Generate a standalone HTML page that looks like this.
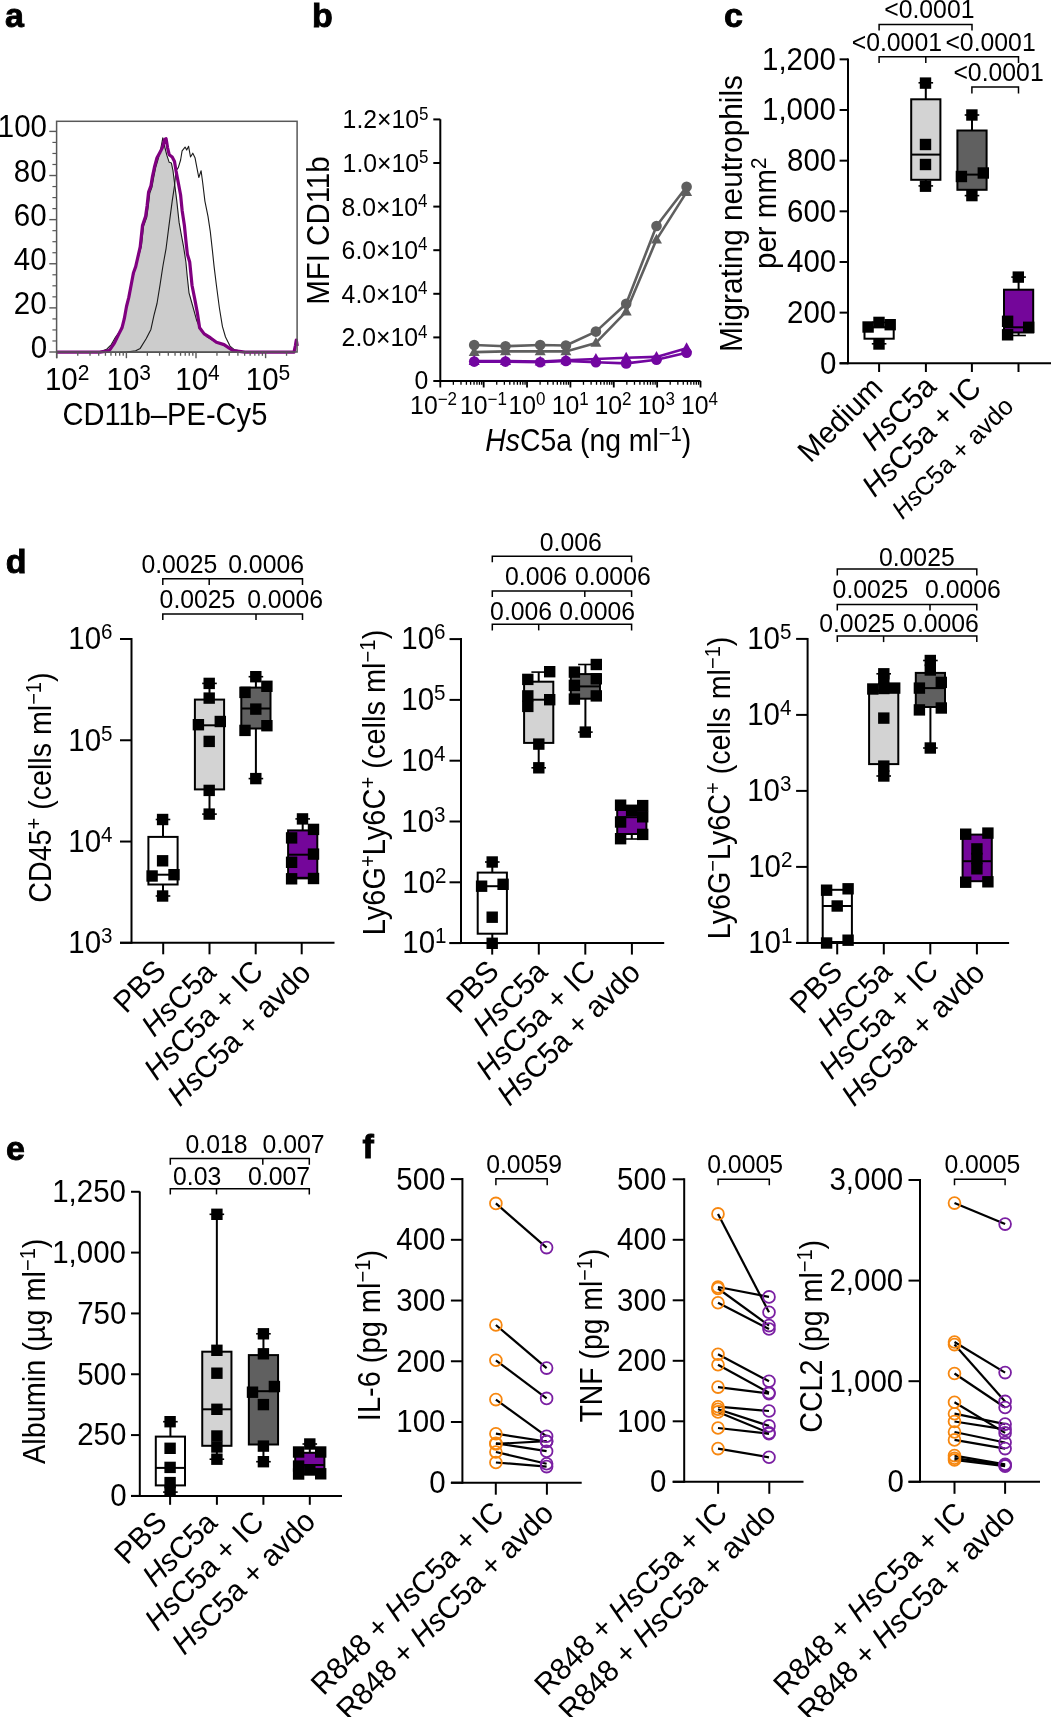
<!DOCTYPE html>
<html><head><meta charset="utf-8"><style>
html,body{margin:0;padding:0;background:#fff;overflow:hidden;}
svg{display:block;will-change:transform;}
text{font-family:"Liberation Sans", sans-serif;}
</style></head><body>
<svg width="1051" height="1717" viewBox="0 0 1051 1717">
<text transform="translate(4.9,27.2)" font-size="34" font-weight="bold" stroke="#000" stroke-width="0.9">a</text>
<path d="M95,352.2 L100.7,351.4 L106.7,349.2 L111.3,344.6 L115.6,337 L120,331 L123.2,323 L125.5,312 L127.8,302 L130,291 L132.5,279 L134.8,270 L137,262 L141.4,246 L143.6,226 L146.8,217 L148.3,206 L149.8,193 L152,187 L153.6,178 L155.8,167 L158,159.5 L160.5,150 L162.8,137.9 L164.5,146 L166.9,155.4 L169.2,162.3 L171.4,163.1 L173,170.7 L174.5,182.8 L176.8,201.1 L179.1,222.4 L181.3,234.6 L183.6,246.8 L185.9,262 L187.2,276 L189,292.8 L192,303.5 L196.6,320.2 L201.1,330.9 L207.2,337 L214.8,341.5 L222.4,344.6 L230,348.4 L236.1,351.4 L242,352.2 L242,352.2 L95,352.2 Z" stroke="#1a1a1a" stroke-width="1.1" fill="#cccccc" stroke-linejoin="round"/>
<path d="M120,352.2 L126.5,352 L135.7,350.7 L140.2,348.4 L146.3,338.5 L150.9,329.4 L153.9,315.7 L157,303.5 L160,285.2 L162.3,270 L163.1,265 L166.1,248.3 L169.2,223.9 L172.2,201.1 L174.5,185.9 L176,170.7 L178.3,167.6 L180.6,160 L182.1,150.9 L185.1,147.1 L186.7,150.1 L188.6,146.3 L190.5,157 L192.8,153.2 L195,157.7 L196.6,166.1 L198.8,177.5 L201.1,170.7 L202.7,182.8 L204.9,201.1 L208,216.3 L210.3,231.6 L212.5,251.4 L214.1,266.6 L216.4,285.2 L219.4,308 L222.4,326.3 L225.5,337 L230,346.1 L234.6,349.9 L242.2,351.4 L250,352.2" stroke="#1a1a1a" stroke-width="1.1" fill="none" stroke-linejoin="round"/>
<path d="M56.6,352.2 L100,352.2 L105.2,351.4 L109.8,349.9 L114.4,343.1 L118.9,333.9 L122,327.8 L124.3,318.7 L126.5,306.5 L128.8,297.4 L131.1,285.2 L133.4,273 L135.7,266.6 L140.2,246.8 L142.5,225.5 L145.6,216.3 L147.1,205.7 L148.6,192 L150.9,185.9 L152.4,176.8 L154.7,166.1 L157,157.7 L160,152.4 L162.3,147.8 L164.6,139.5 L166.1,138.7 L167.6,147.8 L169.2,154.7 L172.2,157 L174.5,161.5 L176,170.7 L178.3,182.8 L180.6,195 L182.1,210.2 L184.4,225.5 L185.9,240.7 L187.4,254.4 L189.7,262 L190.5,270 L192,285.2 L195,300.4 L197.3,312.6 L199.6,327.8 L204.2,333.9 L210.3,337.7 L216.4,342.3 L224,344.6 L228.5,347.6 L233.1,350.7 L239.2,351.4 L245,352.2 L294,352.2 L295.3,346 L296.3,340 L297.3,346" stroke="#800080" stroke-width="3.2" fill="none" stroke-linejoin="round"/>
<rect x="56.6" y="121.3" width="240.5" height="230.7" fill="none" stroke="#585858" stroke-width="1.5"/>
<line x1="49.3" y1="352" x2="56.6" y2="352" stroke="#585858" stroke-width="1.4" stroke-linecap="butt"/>
<line x1="52.4" y1="340.97" x2="56.6" y2="340.97" stroke="#585858" stroke-width="1.2" stroke-linecap="butt"/>
<line x1="52.4" y1="329.94" x2="56.6" y2="329.94" stroke="#585858" stroke-width="1.2" stroke-linecap="butt"/>
<line x1="52.4" y1="318.91" x2="56.6" y2="318.91" stroke="#585858" stroke-width="1.2" stroke-linecap="butt"/>
<line x1="49.3" y1="307.88" x2="56.6" y2="307.88" stroke="#585858" stroke-width="1.4" stroke-linecap="butt"/>
<line x1="52.4" y1="296.85" x2="56.6" y2="296.85" stroke="#585858" stroke-width="1.2" stroke-linecap="butt"/>
<line x1="52.4" y1="285.82" x2="56.6" y2="285.82" stroke="#585858" stroke-width="1.2" stroke-linecap="butt"/>
<line x1="52.4" y1="274.79" x2="56.6" y2="274.79" stroke="#585858" stroke-width="1.2" stroke-linecap="butt"/>
<line x1="49.3" y1="263.76" x2="56.6" y2="263.76" stroke="#585858" stroke-width="1.4" stroke-linecap="butt"/>
<line x1="52.4" y1="252.73" x2="56.6" y2="252.73" stroke="#585858" stroke-width="1.2" stroke-linecap="butt"/>
<line x1="52.4" y1="241.7" x2="56.6" y2="241.7" stroke="#585858" stroke-width="1.2" stroke-linecap="butt"/>
<line x1="52.4" y1="230.67" x2="56.6" y2="230.67" stroke="#585858" stroke-width="1.2" stroke-linecap="butt"/>
<line x1="49.3" y1="219.64" x2="56.6" y2="219.64" stroke="#585858" stroke-width="1.4" stroke-linecap="butt"/>
<line x1="52.4" y1="208.61" x2="56.6" y2="208.61" stroke="#585858" stroke-width="1.2" stroke-linecap="butt"/>
<line x1="52.4" y1="197.58" x2="56.6" y2="197.58" stroke="#585858" stroke-width="1.2" stroke-linecap="butt"/>
<line x1="52.4" y1="186.55" x2="56.6" y2="186.55" stroke="#585858" stroke-width="1.2" stroke-linecap="butt"/>
<line x1="49.3" y1="175.52" x2="56.6" y2="175.52" stroke="#585858" stroke-width="1.4" stroke-linecap="butt"/>
<line x1="52.4" y1="164.49" x2="56.6" y2="164.49" stroke="#585858" stroke-width="1.2" stroke-linecap="butt"/>
<line x1="52.4" y1="153.46" x2="56.6" y2="153.46" stroke="#585858" stroke-width="1.2" stroke-linecap="butt"/>
<line x1="52.4" y1="142.43" x2="56.6" y2="142.43" stroke="#585858" stroke-width="1.2" stroke-linecap="butt"/>
<line x1="49.3" y1="131.4" x2="56.6" y2="131.4" stroke="#585858" stroke-width="1.4" stroke-linecap="butt"/>
<text transform="translate(-2.2,137.4) scale(1,1.035)" font-size="29.5">100</text>
<text transform="translate(13.8,181.52) scale(1,1.035)" font-size="29.5">80</text>
<text transform="translate(13.8,225.64) scale(1,1.035)" font-size="29.5">60</text>
<text transform="translate(13.8,269.76) scale(1,1.035)" font-size="29.5">40</text>
<text transform="translate(13.8,313.88) scale(1,1.035)" font-size="29.5">20</text>
<text transform="translate(30.8,358) scale(1,1.035)" font-size="29.5">0</text>
<line x1="56.6" y1="352" x2="56.6" y2="358.2" stroke="#585858" stroke-width="1.4" stroke-linecap="butt"/>
<line x1="56.8" y1="352" x2="56.8" y2="358.2" stroke="#585858" stroke-width="1.4" stroke-linecap="butt"/>
<line x1="77.752" y1="352" x2="77.752" y2="355.8" stroke="#585858" stroke-width="1.3" stroke-linecap="butt"/>
<line x1="90.008" y1="352" x2="90.008" y2="355.8" stroke="#585858" stroke-width="1.3" stroke-linecap="butt"/>
<line x1="98.703" y1="352" x2="98.703" y2="355.8" stroke="#585858" stroke-width="1.3" stroke-linecap="butt"/>
<line x1="105.448" y1="352" x2="105.448" y2="355.8" stroke="#585858" stroke-width="1.3" stroke-linecap="butt"/>
<line x1="110.959" y1="352" x2="110.959" y2="355.8" stroke="#585858" stroke-width="1.3" stroke-linecap="butt"/>
<line x1="115.619" y1="352" x2="115.619" y2="355.8" stroke="#585858" stroke-width="1.3" stroke-linecap="butt"/>
<line x1="119.655" y1="352" x2="119.655" y2="355.8" stroke="#585858" stroke-width="1.3" stroke-linecap="butt"/>
<line x1="123.215" y1="352" x2="123.215" y2="355.8" stroke="#585858" stroke-width="1.3" stroke-linecap="butt"/>
<line x1="126.4" y1="352" x2="126.4" y2="358.2" stroke="#585858" stroke-width="1.4" stroke-linecap="butt"/>
<line x1="147.352" y1="352" x2="147.352" y2="355.8" stroke="#585858" stroke-width="1.3" stroke-linecap="butt"/>
<line x1="159.608" y1="352" x2="159.608" y2="355.8" stroke="#585858" stroke-width="1.3" stroke-linecap="butt"/>
<line x1="168.303" y1="352" x2="168.303" y2="355.8" stroke="#585858" stroke-width="1.3" stroke-linecap="butt"/>
<line x1="175.048" y1="352" x2="175.048" y2="355.8" stroke="#585858" stroke-width="1.3" stroke-linecap="butt"/>
<line x1="180.559" y1="352" x2="180.559" y2="355.8" stroke="#585858" stroke-width="1.3" stroke-linecap="butt"/>
<line x1="185.219" y1="352" x2="185.219" y2="355.8" stroke="#585858" stroke-width="1.3" stroke-linecap="butt"/>
<line x1="189.255" y1="352" x2="189.255" y2="355.8" stroke="#585858" stroke-width="1.3" stroke-linecap="butt"/>
<line x1="192.815" y1="352" x2="192.815" y2="355.8" stroke="#585858" stroke-width="1.3" stroke-linecap="butt"/>
<line x1="196" y1="352" x2="196" y2="358.2" stroke="#585858" stroke-width="1.4" stroke-linecap="butt"/>
<line x1="216.952" y1="352" x2="216.952" y2="355.8" stroke="#585858" stroke-width="1.3" stroke-linecap="butt"/>
<line x1="229.208" y1="352" x2="229.208" y2="355.8" stroke="#585858" stroke-width="1.3" stroke-linecap="butt"/>
<line x1="237.903" y1="352" x2="237.903" y2="355.8" stroke="#585858" stroke-width="1.3" stroke-linecap="butt"/>
<line x1="244.648" y1="352" x2="244.648" y2="355.8" stroke="#585858" stroke-width="1.3" stroke-linecap="butt"/>
<line x1="250.159" y1="352" x2="250.159" y2="355.8" stroke="#585858" stroke-width="1.3" stroke-linecap="butt"/>
<line x1="254.819" y1="352" x2="254.819" y2="355.8" stroke="#585858" stroke-width="1.3" stroke-linecap="butt"/>
<line x1="258.855" y1="352" x2="258.855" y2="355.8" stroke="#585858" stroke-width="1.3" stroke-linecap="butt"/>
<line x1="262.415" y1="352" x2="262.415" y2="355.8" stroke="#585858" stroke-width="1.3" stroke-linecap="butt"/>
<line x1="265.6" y1="352" x2="265.6" y2="358.2" stroke="#585858" stroke-width="1.4" stroke-linecap="butt"/>
<line x1="286.552" y1="352" x2="286.552" y2="355.8" stroke="#585858" stroke-width="1.3" stroke-linecap="butt"/>
<text transform="translate(44.9,390.3) scale(1,1.035)" font-size="29.5">10<tspan font-size="21" dy="-9.7">2</tspan></text>
<text transform="translate(106.5,390.3) scale(1,1.035)" font-size="29.5">10<tspan font-size="21" dy="-9.7">3</tspan></text>
<text transform="translate(175.3,390.3) scale(1,1.035)" font-size="29.5">10<tspan font-size="21" dy="-9.7">4</tspan></text>
<text transform="translate(245.8,390.3) scale(1,1.035)" font-size="29.5">10<tspan font-size="21" dy="-9.7">5</tspan></text>
<text transform="translate(62.413,425.4) scale(0.987,1.035)" font-size="29.5">CD11b–PE-Cy5</text>
<text transform="translate(312,27.2)" font-size="34" font-weight="bold" stroke="#000" stroke-width="0.9">b</text>
<line x1="440.3" y1="119.2" x2="440.3" y2="382" stroke="#000" stroke-width="2" stroke-linecap="butt"/>
<line x1="439.3" y1="381" x2="700.5" y2="381" stroke="#000" stroke-width="2" stroke-linecap="butt"/>
<line x1="433.3" y1="381" x2="440.3" y2="381" stroke="#000" stroke-width="2" stroke-linecap="butt"/>
<line x1="433.3" y1="337.4" x2="440.3" y2="337.4" stroke="#000" stroke-width="2" stroke-linecap="butt"/>
<line x1="433.3" y1="293.8" x2="440.3" y2="293.8" stroke="#000" stroke-width="2" stroke-linecap="butt"/>
<line x1="433.3" y1="250.2" x2="440.3" y2="250.2" stroke="#000" stroke-width="2" stroke-linecap="butt"/>
<line x1="433.3" y1="206.6" x2="440.3" y2="206.6" stroke="#000" stroke-width="2" stroke-linecap="butt"/>
<line x1="433.3" y1="163" x2="440.3" y2="163" stroke="#000" stroke-width="2" stroke-linecap="butt"/>
<line x1="433.3" y1="119.4" x2="440.3" y2="119.4" stroke="#000" stroke-width="2" stroke-linecap="butt"/>
<line x1="440.3" y1="381" x2="440.3" y2="387.5" stroke="#000" stroke-width="1.8" stroke-linecap="butt"/>
<line x1="453.356" y1="381" x2="453.356" y2="384.8" stroke="#000" stroke-width="1.3" stroke-linecap="butt"/>
<line x1="460.993" y1="381" x2="460.993" y2="384.8" stroke="#000" stroke-width="1.3" stroke-linecap="butt"/>
<line x1="466.411" y1="381" x2="466.411" y2="384.8" stroke="#000" stroke-width="1.3" stroke-linecap="butt"/>
<line x1="470.614" y1="381" x2="470.614" y2="384.8" stroke="#000" stroke-width="1.3" stroke-linecap="butt"/>
<line x1="474.048" y1="381" x2="474.048" y2="384.8" stroke="#000" stroke-width="1.3" stroke-linecap="butt"/>
<line x1="476.952" y1="381" x2="476.952" y2="384.8" stroke="#000" stroke-width="1.3" stroke-linecap="butt"/>
<line x1="479.467" y1="381" x2="479.467" y2="384.8" stroke="#000" stroke-width="1.3" stroke-linecap="butt"/>
<line x1="481.685" y1="381" x2="481.685" y2="384.8" stroke="#000" stroke-width="1.3" stroke-linecap="butt"/>
<line x1="483.67" y1="381" x2="483.67" y2="387.5" stroke="#000" stroke-width="1.8" stroke-linecap="butt"/>
<line x1="496.726" y1="381" x2="496.726" y2="384.8" stroke="#000" stroke-width="1.3" stroke-linecap="butt"/>
<line x1="504.363" y1="381" x2="504.363" y2="384.8" stroke="#000" stroke-width="1.3" stroke-linecap="butt"/>
<line x1="509.781" y1="381" x2="509.781" y2="384.8" stroke="#000" stroke-width="1.3" stroke-linecap="butt"/>
<line x1="513.984" y1="381" x2="513.984" y2="384.8" stroke="#000" stroke-width="1.3" stroke-linecap="butt"/>
<line x1="517.418" y1="381" x2="517.418" y2="384.8" stroke="#000" stroke-width="1.3" stroke-linecap="butt"/>
<line x1="520.322" y1="381" x2="520.322" y2="384.8" stroke="#000" stroke-width="1.3" stroke-linecap="butt"/>
<line x1="522.837" y1="381" x2="522.837" y2="384.8" stroke="#000" stroke-width="1.3" stroke-linecap="butt"/>
<line x1="525.055" y1="381" x2="525.055" y2="384.8" stroke="#000" stroke-width="1.3" stroke-linecap="butt"/>
<line x1="527.04" y1="381" x2="527.04" y2="387.5" stroke="#000" stroke-width="1.8" stroke-linecap="butt"/>
<line x1="540.096" y1="381" x2="540.096" y2="384.8" stroke="#000" stroke-width="1.3" stroke-linecap="butt"/>
<line x1="547.733" y1="381" x2="547.733" y2="384.8" stroke="#000" stroke-width="1.3" stroke-linecap="butt"/>
<line x1="553.151" y1="381" x2="553.151" y2="384.8" stroke="#000" stroke-width="1.3" stroke-linecap="butt"/>
<line x1="557.354" y1="381" x2="557.354" y2="384.8" stroke="#000" stroke-width="1.3" stroke-linecap="butt"/>
<line x1="560.788" y1="381" x2="560.788" y2="384.8" stroke="#000" stroke-width="1.3" stroke-linecap="butt"/>
<line x1="563.692" y1="381" x2="563.692" y2="384.8" stroke="#000" stroke-width="1.3" stroke-linecap="butt"/>
<line x1="566.207" y1="381" x2="566.207" y2="384.8" stroke="#000" stroke-width="1.3" stroke-linecap="butt"/>
<line x1="568.425" y1="381" x2="568.425" y2="384.8" stroke="#000" stroke-width="1.3" stroke-linecap="butt"/>
<line x1="570.41" y1="381" x2="570.41" y2="387.5" stroke="#000" stroke-width="1.8" stroke-linecap="butt"/>
<line x1="583.466" y1="381" x2="583.466" y2="384.8" stroke="#000" stroke-width="1.3" stroke-linecap="butt"/>
<line x1="591.103" y1="381" x2="591.103" y2="384.8" stroke="#000" stroke-width="1.3" stroke-linecap="butt"/>
<line x1="596.521" y1="381" x2="596.521" y2="384.8" stroke="#000" stroke-width="1.3" stroke-linecap="butt"/>
<line x1="600.724" y1="381" x2="600.724" y2="384.8" stroke="#000" stroke-width="1.3" stroke-linecap="butt"/>
<line x1="604.158" y1="381" x2="604.158" y2="384.8" stroke="#000" stroke-width="1.3" stroke-linecap="butt"/>
<line x1="607.062" y1="381" x2="607.062" y2="384.8" stroke="#000" stroke-width="1.3" stroke-linecap="butt"/>
<line x1="609.577" y1="381" x2="609.577" y2="384.8" stroke="#000" stroke-width="1.3" stroke-linecap="butt"/>
<line x1="611.795" y1="381" x2="611.795" y2="384.8" stroke="#000" stroke-width="1.3" stroke-linecap="butt"/>
<line x1="613.78" y1="381" x2="613.78" y2="387.5" stroke="#000" stroke-width="1.8" stroke-linecap="butt"/>
<line x1="626.836" y1="381" x2="626.836" y2="384.8" stroke="#000" stroke-width="1.3" stroke-linecap="butt"/>
<line x1="634.473" y1="381" x2="634.473" y2="384.8" stroke="#000" stroke-width="1.3" stroke-linecap="butt"/>
<line x1="639.891" y1="381" x2="639.891" y2="384.8" stroke="#000" stroke-width="1.3" stroke-linecap="butt"/>
<line x1="644.094" y1="381" x2="644.094" y2="384.8" stroke="#000" stroke-width="1.3" stroke-linecap="butt"/>
<line x1="647.528" y1="381" x2="647.528" y2="384.8" stroke="#000" stroke-width="1.3" stroke-linecap="butt"/>
<line x1="650.432" y1="381" x2="650.432" y2="384.8" stroke="#000" stroke-width="1.3" stroke-linecap="butt"/>
<line x1="652.947" y1="381" x2="652.947" y2="384.8" stroke="#000" stroke-width="1.3" stroke-linecap="butt"/>
<line x1="655.165" y1="381" x2="655.165" y2="384.8" stroke="#000" stroke-width="1.3" stroke-linecap="butt"/>
<line x1="657.15" y1="381" x2="657.15" y2="387.5" stroke="#000" stroke-width="1.8" stroke-linecap="butt"/>
<line x1="670.206" y1="381" x2="670.206" y2="384.8" stroke="#000" stroke-width="1.3" stroke-linecap="butt"/>
<line x1="677.843" y1="381" x2="677.843" y2="384.8" stroke="#000" stroke-width="1.3" stroke-linecap="butt"/>
<line x1="683.261" y1="381" x2="683.261" y2="384.8" stroke="#000" stroke-width="1.3" stroke-linecap="butt"/>
<line x1="687.464" y1="381" x2="687.464" y2="384.8" stroke="#000" stroke-width="1.3" stroke-linecap="butt"/>
<line x1="690.898" y1="381" x2="690.898" y2="384.8" stroke="#000" stroke-width="1.3" stroke-linecap="butt"/>
<line x1="693.802" y1="381" x2="693.802" y2="384.8" stroke="#000" stroke-width="1.3" stroke-linecap="butt"/>
<line x1="696.317" y1="381" x2="696.317" y2="384.8" stroke="#000" stroke-width="1.3" stroke-linecap="butt"/>
<line x1="698.535" y1="381" x2="698.535" y2="384.8" stroke="#000" stroke-width="1.3" stroke-linecap="butt"/>
<line x1="700.52" y1="381" x2="700.52" y2="387.5" stroke="#000" stroke-width="1.8" stroke-linecap="butt"/>
<text transform="translate(342.6,128.3) scale(1,1.035)" font-size="24.8">1.2×10<tspan font-size="17" dy="-8.4">5</tspan></text>
<text transform="translate(342.6,171.9) scale(1,1.035)" font-size="24.8">1.0×10<tspan font-size="17" dy="-8.4">5</tspan></text>
<text transform="translate(341.6,215.5) scale(1,1.035)" font-size="24.8">8.0×10<tspan font-size="17" dy="-8.4">4</tspan></text>
<text transform="translate(341.6,259.1) scale(1,1.035)" font-size="24.8">6.0×10<tspan font-size="17" dy="-8.4">4</tspan></text>
<text transform="translate(341.6,302.7) scale(1,1.035)" font-size="24.8">4.0×10<tspan font-size="17" dy="-8.4">4</tspan></text>
<text transform="translate(341.6,346.3) scale(1,1.035)" font-size="24.8">2.0×10<tspan font-size="17" dy="-8.4">4</tspan></text>
<text transform="translate(414.4,389) scale(1,1.035)" font-size="24.8">0</text>
<text transform="translate(410.1,413.8) scale(1,1.035)" font-size="24.8">10<tspan font-size="17" dy="-8.4">−2</tspan></text>
<text transform="translate(460,413.8) scale(1,1.035)" font-size="24.8">10<tspan font-size="17" dy="-8.4">−1</tspan></text>
<text transform="translate(508.4,413.8) scale(1,1.035)" font-size="24.8">10<tspan font-size="17" dy="-8.4">0</tspan></text>
<text transform="translate(551.7,413.8) scale(1,1.035)" font-size="24.8">10<tspan font-size="17" dy="-8.4">1</tspan></text>
<text transform="translate(594.5,413.8) scale(1,1.035)" font-size="24.8">10<tspan font-size="17" dy="-8.4">2</tspan></text>
<text transform="translate(637.8,413.8) scale(1,1.035)" font-size="24.8">10<tspan font-size="17" dy="-8.4">3</tspan></text>
<text transform="translate(681,413.8) scale(1,1.035)" font-size="24.8">10<tspan font-size="17" dy="-8.4">4</tspan></text>
<text transform="translate(485.338,451.4) scale(0.962,1.035)" font-size="29.5"><tspan font-style="italic">Hs</tspan>C5a (ng ml<tspan font-size="21" dy="-9.7">−1</tspan><tspan dy="9.7">)</tspan></text>
<text transform="translate(328.7,304.797) rotate(-90) scale(0.999,1.035)" font-size="29.5">MFI CD11b</text>
<path d="M474.2,352.1 L505.5,351.4 L540.2,351.4 L565.9,351.4 L595.9,342.9 L626.2,311.6 L656.5,239.6 L686.6,192.1" stroke="#5f5f5f" stroke-width="2.6" fill="none" stroke-linejoin="round"/>
<path d="M474.2,345 L505.5,346.2 L540.2,345 L565.9,345.5 L595.9,331.6 L626.2,303.8 L656.5,226 L686.6,186.7" stroke="#5f5f5f" stroke-width="2.6" fill="none" stroke-linejoin="round"/>
<path d="M474.2,346.16 L479.7,356.06 L468.7,356.06 Z" fill="#5f5f5f"/>
<path d="M505.5,345.46 L511,355.36 L500,355.36 Z" fill="#5f5f5f"/>
<path d="M540.2,345.46 L545.7,355.36 L534.7,355.36 Z" fill="#5f5f5f"/>
<path d="M565.9,345.46 L571.4,355.36 L560.4,355.36 Z" fill="#5f5f5f"/>
<path d="M595.9,336.96 L601.4,346.86 L590.4,346.86 Z" fill="#5f5f5f"/>
<path d="M626.2,305.66 L631.7,315.56 L620.7,315.56 Z" fill="#5f5f5f"/>
<path d="M656.5,233.66 L662,243.56 L651,243.56 Z" fill="#5f5f5f"/>
<path d="M686.6,186.16 L692.1,196.06 L681.1,196.06 Z" fill="#5f5f5f"/>
<circle cx="474.2" cy="345" r="5.3" fill="#5f5f5f"/>
<circle cx="505.5" cy="346.2" r="5.3" fill="#5f5f5f"/>
<circle cx="540.2" cy="345" r="5.3" fill="#5f5f5f"/>
<circle cx="565.9" cy="345.5" r="5.3" fill="#5f5f5f"/>
<circle cx="595.9" cy="331.6" r="5.3" fill="#5f5f5f"/>
<circle cx="626.2" cy="303.8" r="5.3" fill="#5f5f5f"/>
<circle cx="656.5" cy="226" r="5.3" fill="#5f5f5f"/>
<circle cx="686.6" cy="186.7" r="5.3" fill="#5f5f5f"/>
<path d="M474.2,361 L505.5,361 L540.2,361.6 L565.9,360.2 L595.9,359 L626.2,357.7 L656.5,356.9 L686.6,348.2" stroke="#7206a0" stroke-width="2.6" fill="none" stroke-linejoin="round"/>
<path d="M474.2,361.6 L505.5,361.6 L540.2,362.2 L565.9,360.9 L595.9,362.2 L626.2,363.4 L656.5,359.8 L686.6,352.7" stroke="#7206a0" stroke-width="2.6" fill="none" stroke-linejoin="round"/>
<path d="M474.2,355.06 L479.7,364.96 L468.7,364.96 Z" fill="#7206a0"/>
<path d="M505.5,355.06 L511,364.96 L500,364.96 Z" fill="#7206a0"/>
<path d="M540.2,355.66 L545.7,365.56 L534.7,365.56 Z" fill="#7206a0"/>
<path d="M565.9,354.26 L571.4,364.16 L560.4,364.16 Z" fill="#7206a0"/>
<path d="M595.9,353.06 L601.4,362.96 L590.4,362.96 Z" fill="#7206a0"/>
<path d="M626.2,351.76 L631.7,361.66 L620.7,361.66 Z" fill="#7206a0"/>
<path d="M656.5,350.96 L662,360.86 L651,360.86 Z" fill="#7206a0"/>
<path d="M686.6,342.26 L692.1,352.16 L681.1,352.16 Z" fill="#7206a0"/>
<circle cx="474.2" cy="361.6" r="5.3" fill="#7206a0"/>
<circle cx="505.5" cy="361.6" r="5.3" fill="#7206a0"/>
<circle cx="540.2" cy="362.2" r="5.3" fill="#7206a0"/>
<circle cx="565.9" cy="360.9" r="5.3" fill="#7206a0"/>
<circle cx="595.9" cy="362.2" r="5.3" fill="#7206a0"/>
<circle cx="626.2" cy="363.4" r="5.3" fill="#7206a0"/>
<circle cx="656.5" cy="359.8" r="5.3" fill="#7206a0"/>
<circle cx="686.6" cy="352.7" r="5.3" fill="#7206a0"/>
<text transform="translate(724,27.2)" font-size="34" font-weight="bold" stroke="#000" stroke-width="0.9">c</text>
<line x1="848" y1="58.5" x2="848" y2="364.3" stroke="#000" stroke-width="2" stroke-linecap="butt"/>
<line x1="839.6" y1="363.3" x2="1051" y2="363.3" stroke="#000" stroke-width="2" stroke-linecap="butt"/>
<line x1="839.6" y1="363.3" x2="848" y2="363.3" stroke="#000" stroke-width="2" stroke-linecap="butt"/>
<text transform="translate(820,373.7) scale(1,1.035)" font-size="29.5">0</text>
<line x1="839.6" y1="312.64" x2="848" y2="312.64" stroke="#000" stroke-width="2" stroke-linecap="butt"/>
<text transform="translate(787,323.04) scale(1,1.035)" font-size="29.5">200</text>
<line x1="839.6" y1="261.98" x2="848" y2="261.98" stroke="#000" stroke-width="2" stroke-linecap="butt"/>
<text transform="translate(787,272.38) scale(1,1.035)" font-size="29.5">400</text>
<line x1="839.6" y1="211.32" x2="848" y2="211.32" stroke="#000" stroke-width="2" stroke-linecap="butt"/>
<text transform="translate(787,221.72) scale(1,1.035)" font-size="29.5">600</text>
<line x1="839.6" y1="160.66" x2="848" y2="160.66" stroke="#000" stroke-width="2" stroke-linecap="butt"/>
<text transform="translate(787,171.06) scale(1,1.035)" font-size="29.5">800</text>
<line x1="839.6" y1="110" x2="848" y2="110" stroke="#000" stroke-width="2" stroke-linecap="butt"/>
<text transform="translate(762,120.4) scale(1,1.035)" font-size="29.5">1,000</text>
<line x1="839.6" y1="59.34" x2="848" y2="59.34" stroke="#000" stroke-width="2" stroke-linecap="butt"/>
<text transform="translate(762,69.74) scale(1,1.035)" font-size="29.5">1,200</text>
<line x1="879.1" y1="363.3" x2="879.1" y2="372" stroke="#000" stroke-width="2" stroke-linecap="butt"/>
<line x1="925.9" y1="363.3" x2="925.9" y2="372" stroke="#000" stroke-width="2" stroke-linecap="butt"/>
<line x1="971.9" y1="363.3" x2="971.9" y2="372" stroke="#000" stroke-width="2" stroke-linecap="butt"/>
<line x1="1018.5" y1="363.3" x2="1018.5" y2="372" stroke="#000" stroke-width="2" stroke-linecap="butt"/>
<line x1="879.1" y1="322.4" x2="879.1" y2="327.3" stroke="#000" stroke-width="2" stroke-linecap="butt"/>
<line x1="871.8" y1="322.4" x2="886.4" y2="322.4" stroke="#000" stroke-width="1.6" stroke-linecap="butt"/>
<line x1="879.1" y1="338.7" x2="879.1" y2="343.8" stroke="#000" stroke-width="2" stroke-linecap="butt"/>
<line x1="871.8" y1="343.8" x2="886.4" y2="343.8" stroke="#000" stroke-width="1.6" stroke-linecap="butt"/>
<rect x="864.5" y="327.3" width="29.2" height="11.4" fill="#fff" stroke="#000" stroke-width="2"/>
<rect x="862.4" y="321.3" width="11.4" height="11.4" fill="#000"/>
<rect x="873.3" y="316.7" width="11.4" height="11.4" fill="#000"/>
<rect x="884.5" y="319" width="11.4" height="11.4" fill="#000"/>
<rect x="873.3" y="338.3" width="11.4" height="11.4" fill="#000"/>
<line x1="925.8" y1="82.8" x2="925.8" y2="99.3" stroke="#000" stroke-width="2" stroke-linecap="butt"/>
<line x1="918.5" y1="82.8" x2="933.1" y2="82.8" stroke="#000" stroke-width="1.6" stroke-linecap="butt"/>
<line x1="925.8" y1="179.8" x2="925.8" y2="185.9" stroke="#000" stroke-width="2" stroke-linecap="butt"/>
<line x1="918.5" y1="185.9" x2="933.1" y2="185.9" stroke="#000" stroke-width="1.6" stroke-linecap="butt"/>
<rect x="911.2" y="99.3" width="29.2" height="80.5" fill="#d3d3d3" stroke="#000" stroke-width="2"/>
<line x1="911.2" y1="154.6" x2="940.4" y2="154.6" stroke="#000" stroke-width="2" stroke-linecap="butt"/>
<rect x="919.8" y="77.4" width="11.4" height="11.4" fill="#000"/>
<rect x="919.8" y="138.8" width="11.4" height="11.4" fill="#000"/>
<rect x="919.8" y="158.8" width="11.4" height="11.4" fill="#000"/>
<rect x="919.8" y="180.5" width="11.4" height="11.4" fill="#000"/>
<line x1="972" y1="115" x2="972" y2="130.5" stroke="#000" stroke-width="2" stroke-linecap="butt"/>
<line x1="964.7" y1="115" x2="979.3" y2="115" stroke="#000" stroke-width="1.6" stroke-linecap="butt"/>
<line x1="972" y1="189.8" x2="972" y2="195.6" stroke="#000" stroke-width="2" stroke-linecap="butt"/>
<line x1="964.7" y1="195.6" x2="979.3" y2="195.6" stroke="#000" stroke-width="1.6" stroke-linecap="butt"/>
<rect x="957.4" y="130.5" width="29.2" height="59.3" fill="#606060" stroke="#000" stroke-width="2"/>
<line x1="957.4" y1="174.6" x2="986.6" y2="174.6" stroke="#000" stroke-width="2" stroke-linecap="butt"/>
<rect x="966.2" y="109.3" width="11.4" height="11.4" fill="#000"/>
<rect x="955.7" y="170.8" width="11.4" height="11.4" fill="#000"/>
<rect x="977.6" y="167.3" width="11.4" height="11.4" fill="#000"/>
<rect x="966.2" y="189.9" width="11.4" height="11.4" fill="#000"/>
<line x1="1018.6" y1="277.1" x2="1018.6" y2="289.7" stroke="#000" stroke-width="2" stroke-linecap="butt"/>
<line x1="1011.3" y1="277.1" x2="1025.9" y2="277.1" stroke="#000" stroke-width="1.6" stroke-linecap="butt"/>
<line x1="1018.6" y1="332.5" x2="1018.6" y2="335.5" stroke="#000" stroke-width="2" stroke-linecap="butt"/>
<line x1="1011.3" y1="335.5" x2="1025.9" y2="335.5" stroke="#000" stroke-width="1.6" stroke-linecap="butt"/>
<rect x="1004" y="289.7" width="29.2" height="42.8" fill="#74069a" stroke="#000" stroke-width="2"/>
<line x1="1004" y1="327.3" x2="1033.2" y2="327.3" stroke="#000" stroke-width="2" stroke-linecap="butt"/>
<rect x="1012.6" y="271.4" width="11.4" height="11.4" fill="#000"/>
<rect x="1001.9" y="315.6" width="11.4" height="11.4" fill="#000"/>
<rect x="1023" y="321.6" width="11.4" height="11.4" fill="#000"/>
<rect x="1001.9" y="329.1" width="11.4" height="11.4" fill="#000"/>
<path d="M879.1,30.5 L879.1,24.5 L972,24.5 L972,30.5" fill="none" stroke="#000" stroke-width="1.5"/>
<path d="M879.1,63.1 L879.1,56.8 L1018.5,56.8 L1018.5,63.1" fill="none" stroke="#000" stroke-width="1.5"/>
<line x1="925.8" y1="56.8" x2="925.8" y2="63.1" stroke="#000" stroke-width="1.5" stroke-linecap="butt"/>
<path d="M971.9,93.4 L971.9,86.9 L1018.5,86.9 L1018.5,93.4" fill="none" stroke="#000" stroke-width="1.5"/>
<text transform="translate(884.2,17.9) scale(1,1.035)" font-size="24.8">&lt;0.0001</text>
<text transform="translate(851.7,51.3) scale(1,1.035)" font-size="24.8">&lt;0.0001</text>
<text transform="translate(945.4,51.3) scale(1,1.035)" font-size="24.8">&lt;0.0001</text>
<text transform="translate(953.4,81.3) scale(1,1.035)" font-size="24.8">&lt;0.0001</text>
<text transform="translate(742.1,352.024) rotate(-90) scale(1.012,1.035)" font-size="29.5">Migrating neutrophils</text>
<text transform="translate(776.2,269) rotate(-90) scale(1,1.035)" font-size="29.5">per mm<tspan font-size="20.6" dy="-9.7">2</tspan></text>
<text transform="translate(810.269,463.733) rotate(-45) scale(1,1.035)" font-size="29.5">Medium</text>
<text transform="translate(874.061,452.14) rotate(-45) scale(1,1.035)" font-size="29.5"><tspan font-style="italic">Hs</tspan>C5a</text>
<text transform="translate(874.421,498.281) rotate(-45) scale(1,1.035)" font-size="29.5"><tspan font-style="italic">Hs</tspan>C5a + IC</text>
<text transform="translate(902.464,520.31) rotate(-45) scale(1,1.035)" font-size="25"><tspan font-style="italic">Hs</tspan>C5a + avdo</text>
<text transform="translate(5.8,572.5)" font-size="34" font-weight="bold" stroke="#000" stroke-width="0.9">d</text>
<line x1="131.5" y1="638" x2="131.5" y2="943.81" stroke="#000" stroke-width="2" stroke-linecap="butt"/>
<line x1="120" y1="942.81" x2="334.5" y2="942.81" stroke="#000" stroke-width="2" stroke-linecap="butt"/>
<line x1="120" y1="942.81" x2="131.5" y2="942.81" stroke="#000" stroke-width="2" stroke-linecap="butt"/>
<text transform="translate(68.3,953.11) scale(1,1.035)" font-size="29.5">10<tspan font-size="20.6" dy="-9.7">3</tspan></text>
<line x1="120" y1="841.54" x2="131.5" y2="841.54" stroke="#000" stroke-width="2" stroke-linecap="butt"/>
<text transform="translate(68.3,851.84) scale(1,1.035)" font-size="29.5">10<tspan font-size="20.6" dy="-9.7">4</tspan></text>
<line x1="120" y1="740.27" x2="131.5" y2="740.27" stroke="#000" stroke-width="2" stroke-linecap="butt"/>
<text transform="translate(68.3,750.57) scale(1,1.035)" font-size="29.5">10<tspan font-size="20.6" dy="-9.7">5</tspan></text>
<line x1="120" y1="639" x2="131.5" y2="639" stroke="#000" stroke-width="2" stroke-linecap="butt"/>
<text transform="translate(68.3,649.3) scale(1,1.035)" font-size="29.5">10<tspan font-size="20.6" dy="-9.7">6</tspan></text>
<line x1="163.2" y1="942.81" x2="163.2" y2="954.31" stroke="#000" stroke-width="2" stroke-linecap="butt"/>
<line x1="209.5" y1="942.81" x2="209.5" y2="954.31" stroke="#000" stroke-width="2" stroke-linecap="butt"/>
<line x1="255.7" y1="942.81" x2="255.7" y2="954.31" stroke="#000" stroke-width="2" stroke-linecap="butt"/>
<line x1="301.7" y1="942.81" x2="301.7" y2="954.31" stroke="#000" stroke-width="2" stroke-linecap="butt"/>
<line x1="163" y1="819.5" x2="163" y2="836.9" stroke="#000" stroke-width="2" stroke-linecap="butt"/>
<line x1="155.7" y1="819.5" x2="170.3" y2="819.5" stroke="#000" stroke-width="1.6" stroke-linecap="butt"/>
<line x1="163" y1="884.5" x2="163" y2="896" stroke="#000" stroke-width="2" stroke-linecap="butt"/>
<line x1="155.7" y1="896" x2="170.3" y2="896" stroke="#000" stroke-width="1.6" stroke-linecap="butt"/>
<rect x="148.4" y="836.9" width="29.2" height="47.6" fill="#fff" stroke="#000" stroke-width="2"/>
<line x1="148.4" y1="874.7" x2="177.6" y2="874.7" stroke="#000" stroke-width="2" stroke-linecap="butt"/>
<rect x="156.9" y="813.8" width="11.4" height="11.4" fill="#000"/>
<rect x="156.9" y="855.1" width="11.4" height="11.4" fill="#000"/>
<rect x="146.4" y="870.3" width="11.4" height="11.4" fill="#000"/>
<rect x="168.3" y="869" width="11.4" height="11.4" fill="#000"/>
<rect x="156.9" y="890.3" width="11.4" height="11.4" fill="#000"/>
<line x1="209.5" y1="683.4" x2="209.5" y2="699.6" stroke="#000" stroke-width="2" stroke-linecap="butt"/>
<line x1="202.2" y1="683.4" x2="216.8" y2="683.4" stroke="#000" stroke-width="1.6" stroke-linecap="butt"/>
<line x1="209.5" y1="789.4" x2="209.5" y2="814.1" stroke="#000" stroke-width="2" stroke-linecap="butt"/>
<line x1="202.2" y1="814.1" x2="216.8" y2="814.1" stroke="#000" stroke-width="1.6" stroke-linecap="butt"/>
<rect x="194.9" y="699.6" width="29.2" height="89.8" fill="#d3d3d3" stroke="#000" stroke-width="2"/>
<line x1="194.9" y1="725.3" x2="224.1" y2="725.3" stroke="#000" stroke-width="2" stroke-linecap="butt"/>
<rect x="203.5" y="677.7" width="11.4" height="11.4" fill="#000"/>
<rect x="203.5" y="692.4" width="11.4" height="11.4" fill="#000"/>
<rect x="192.7" y="719" width="11.4" height="11.4" fill="#000"/>
<rect x="214.6" y="715.8" width="11.4" height="11.4" fill="#000"/>
<rect x="203.5" y="735.7" width="11.4" height="11.4" fill="#000"/>
<rect x="203.5" y="784.7" width="11.4" height="11.4" fill="#000"/>
<rect x="203.5" y="808.4" width="11.4" height="11.4" fill="#000"/>
<line x1="255.9" y1="676.7" x2="255.9" y2="687.6" stroke="#000" stroke-width="2" stroke-linecap="butt"/>
<line x1="248.6" y1="676.7" x2="263.2" y2="676.7" stroke="#000" stroke-width="1.6" stroke-linecap="butt"/>
<line x1="255.9" y1="728.5" x2="255.9" y2="778.6" stroke="#000" stroke-width="2" stroke-linecap="butt"/>
<line x1="248.6" y1="778.6" x2="263.2" y2="778.6" stroke="#000" stroke-width="1.6" stroke-linecap="butt"/>
<rect x="241.3" y="687.6" width="29.2" height="40.9" fill="#606060" stroke="#000" stroke-width="2"/>
<line x1="241.3" y1="708.5" x2="270.5" y2="708.5" stroke="#000" stroke-width="2" stroke-linecap="butt"/>
<rect x="250.1" y="671" width="11.4" height="11.4" fill="#000"/>
<rect x="239.3" y="686.7" width="11.4" height="11.4" fill="#000"/>
<rect x="261.2" y="680.6" width="11.4" height="11.4" fill="#000"/>
<rect x="250.1" y="703.4" width="11.4" height="11.4" fill="#000"/>
<rect x="239.3" y="724.7" width="11.4" height="11.4" fill="#000"/>
<rect x="261.2" y="720" width="11.4" height="11.4" fill="#000"/>
<rect x="250.1" y="772.9" width="11.4" height="11.4" fill="#000"/>
<line x1="302.7" y1="818.9" x2="302.7" y2="830.4" stroke="#000" stroke-width="2" stroke-linecap="butt"/>
<line x1="295.4" y1="818.9" x2="310" y2="818.9" stroke="#000" stroke-width="1.6" stroke-linecap="butt"/>
<line x1="302.7" y1="877.8" x2="302.7" y2="878.6" stroke="#000" stroke-width="2" stroke-linecap="butt"/>
<line x1="295.4" y1="878.6" x2="310" y2="878.6" stroke="#000" stroke-width="1.6" stroke-linecap="butt"/>
<rect x="288.1" y="830.4" width="29.2" height="47.4" fill="#74069a" stroke="#000" stroke-width="2"/>
<line x1="288.1" y1="854.7" x2="317.3" y2="854.7" stroke="#000" stroke-width="2" stroke-linecap="butt"/>
<rect x="296.8" y="813.2" width="11.4" height="11.4" fill="#000"/>
<rect x="285.9" y="832.2" width="11.4" height="11.4" fill="#000"/>
<rect x="307.8" y="823.7" width="11.4" height="11.4" fill="#000"/>
<rect x="285.9" y="856.6" width="11.4" height="11.4" fill="#000"/>
<rect x="307.8" y="848.4" width="11.4" height="11.4" fill="#000"/>
<rect x="285.9" y="873.1" width="11.4" height="11.4" fill="#000"/>
<rect x="307.8" y="872.8" width="11.4" height="11.4" fill="#000"/>
<path d="M162.8,584.9 L162.8,578.8 L302.5,578.8 L302.5,584.9" fill="none" stroke="#000" stroke-width="1.5"/>
<line x1="209.2" y1="578.8" x2="209.2" y2="584.9" stroke="#000" stroke-width="1.5" stroke-linecap="butt"/>
<path d="M162.8,620.1 L162.8,614 L302.5,614 L302.5,620.1" fill="none" stroke="#000" stroke-width="1.5"/>
<line x1="256" y1="614" x2="256" y2="620.1" stroke="#000" stroke-width="1.5" stroke-linecap="butt"/>
<text transform="translate(141.4,572.5) scale(1,1.035)" font-size="24.8">0.0025</text>
<text transform="translate(228.2,572.5) scale(1,1.035)" font-size="24.8">0.0006</text>
<text transform="translate(159.6,608.1) scale(1,1.035)" font-size="24.8">0.0025</text>
<text transform="translate(247.2,608.1) scale(1,1.035)" font-size="24.8">0.0006</text>
<text transform="translate(51.3,902.671) rotate(-90) scale(0.971,1.035)" font-size="29.5">CD45<tspan font-size="20.6" dy="-9.7">+</tspan><tspan dy="9.7"> (cells ml</tspan><tspan font-size="20.6" dy="-9.7">−1</tspan><tspan dy="9.7">)</tspan></text>
<text transform="translate(125.989,1014.613) rotate(-45) scale(1,1.035)" font-size="29.5">PBS</text>
<text transform="translate(153.961,1038.04) rotate(-45) scale(1,1.035)" font-size="29.5"><tspan font-style="italic">Hs</tspan>C5a</text>
<text transform="translate(156.421,1081.481) rotate(-45) scale(1,1.035)" font-size="29.5"><tspan font-style="italic">Hs</tspan>C5a + IC</text>
<text transform="translate(179.872,1107.53) rotate(-45) scale(1,1.035)" font-size="29.5"><tspan font-style="italic">Hs</tspan>C5a + avdo</text>
<line x1="461" y1="638.1" x2="461" y2="944.1" stroke="#000" stroke-width="2" stroke-linecap="butt"/>
<line x1="449.5" y1="943.1" x2="664.2" y2="943.1" stroke="#000" stroke-width="2" stroke-linecap="butt"/>
<line x1="449.5" y1="943.1" x2="461" y2="943.1" stroke="#000" stroke-width="2" stroke-linecap="butt"/>
<text transform="translate(402.3,953.4) scale(1,1.035)" font-size="29.5">10<tspan font-size="20.6" dy="-9.7">1</tspan></text>
<line x1="449.5" y1="882.3" x2="461" y2="882.3" stroke="#000" stroke-width="2" stroke-linecap="butt"/>
<text transform="translate(402.3,892.6) scale(1,1.035)" font-size="29.5">10<tspan font-size="20.6" dy="-9.7">2</tspan></text>
<line x1="449.5" y1="821.5" x2="461" y2="821.5" stroke="#000" stroke-width="2" stroke-linecap="butt"/>
<text transform="translate(401.3,831.8) scale(1,1.035)" font-size="29.5">10<tspan font-size="20.6" dy="-9.7">3</tspan></text>
<line x1="449.5" y1="760.7" x2="461" y2="760.7" stroke="#000" stroke-width="2" stroke-linecap="butt"/>
<text transform="translate(401.3,771) scale(1,1.035)" font-size="29.5">10<tspan font-size="20.6" dy="-9.7">4</tspan></text>
<line x1="449.5" y1="699.9" x2="461" y2="699.9" stroke="#000" stroke-width="2" stroke-linecap="butt"/>
<text transform="translate(401.3,710.2) scale(1,1.035)" font-size="29.5">10<tspan font-size="20.6" dy="-9.7">5</tspan></text>
<line x1="449.5" y1="639.1" x2="461" y2="639.1" stroke="#000" stroke-width="2" stroke-linecap="butt"/>
<text transform="translate(401.3,649.4) scale(1,1.035)" font-size="29.5">10<tspan font-size="20.6" dy="-9.7">6</tspan></text>
<line x1="492.2" y1="943.1" x2="492.2" y2="954.6" stroke="#000" stroke-width="2" stroke-linecap="butt"/>
<line x1="538.8" y1="943.1" x2="538.8" y2="954.6" stroke="#000" stroke-width="2" stroke-linecap="butt"/>
<line x1="585.3" y1="943.1" x2="585.3" y2="954.6" stroke="#000" stroke-width="2" stroke-linecap="butt"/>
<line x1="631.9" y1="943.1" x2="631.9" y2="954.6" stroke="#000" stroke-width="2" stroke-linecap="butt"/>
<line x1="492.3" y1="862" x2="492.3" y2="872.6" stroke="#000" stroke-width="2" stroke-linecap="butt"/>
<line x1="485" y1="862" x2="499.6" y2="862" stroke="#000" stroke-width="1.6" stroke-linecap="butt"/>
<line x1="492.3" y1="933.7" x2="492.3" y2="943.3" stroke="#000" stroke-width="2" stroke-linecap="butt"/>
<line x1="485" y1="943.3" x2="499.6" y2="943.3" stroke="#000" stroke-width="1.6" stroke-linecap="butt"/>
<rect x="477.7" y="872.6" width="29.2" height="61.1" fill="#fff" stroke="#000" stroke-width="2"/>
<line x1="477.7" y1="886.2" x2="506.9" y2="886.2" stroke="#000" stroke-width="2" stroke-linecap="butt"/>
<rect x="486.5" y="856.3" width="11.4" height="11.4" fill="#000"/>
<rect x="475.9" y="880.5" width="11.4" height="11.4" fill="#000"/>
<rect x="497.4" y="878.6" width="11.4" height="11.4" fill="#000"/>
<rect x="486.5" y="911.5" width="11.4" height="11.4" fill="#000"/>
<rect x="486.5" y="937.6" width="11.4" height="11.4" fill="#000"/>
<line x1="538.7" y1="672.1" x2="538.7" y2="681.7" stroke="#000" stroke-width="2" stroke-linecap="butt"/>
<line x1="531.4" y1="672.1" x2="546" y2="672.1" stroke="#000" stroke-width="1.6" stroke-linecap="butt"/>
<line x1="538.7" y1="742.9" x2="538.7" y2="767.8" stroke="#000" stroke-width="2" stroke-linecap="butt"/>
<line x1="531.4" y1="767.8" x2="546" y2="767.8" stroke="#000" stroke-width="1.6" stroke-linecap="butt"/>
<rect x="524.1" y="681.7" width="29.2" height="61.2" fill="#d3d3d3" stroke="#000" stroke-width="2"/>
<line x1="524.1" y1="699.7" x2="553.3" y2="699.7" stroke="#000" stroke-width="2" stroke-linecap="butt"/>
<rect x="544" y="666" width="11.4" height="11.4" fill="#000"/>
<rect x="522.1" y="673.7" width="11.4" height="11.4" fill="#000"/>
<rect x="522.1" y="690.2" width="11.4" height="11.4" fill="#000"/>
<rect x="522.1" y="700.7" width="11.4" height="11.4" fill="#000"/>
<rect x="544" y="694" width="11.4" height="11.4" fill="#000"/>
<rect x="533.1" y="738.4" width="11.4" height="11.4" fill="#000"/>
<rect x="533.1" y="762.1" width="11.4" height="11.4" fill="#000"/>
<line x1="585.4" y1="664.5" x2="585.4" y2="674.1" stroke="#000" stroke-width="2" stroke-linecap="butt"/>
<line x1="578.1" y1="664.5" x2="592.7" y2="664.5" stroke="#000" stroke-width="1.6" stroke-linecap="butt"/>
<line x1="585.4" y1="698.7" x2="585.4" y2="732.1" stroke="#000" stroke-width="2" stroke-linecap="butt"/>
<line x1="578.1" y1="732.1" x2="592.7" y2="732.1" stroke="#000" stroke-width="1.6" stroke-linecap="butt"/>
<rect x="570.8" y="674.1" width="29.2" height="24.6" fill="#606060" stroke="#000" stroke-width="2"/>
<line x1="570.8" y1="686.4" x2="600" y2="686.4" stroke="#000" stroke-width="2" stroke-linecap="butt"/>
<rect x="590.6" y="658.8" width="11.4" height="11.4" fill="#000"/>
<rect x="568.7" y="666.4" width="11.4" height="11.4" fill="#000"/>
<rect x="590.6" y="673.1" width="11.4" height="11.4" fill="#000"/>
<rect x="568.7" y="679.7" width="11.4" height="11.4" fill="#000"/>
<rect x="590.6" y="690.2" width="11.4" height="11.4" fill="#000"/>
<rect x="568.7" y="693.4" width="11.4" height="11.4" fill="#000"/>
<rect x="579.6" y="726.4" width="11.4" height="11.4" fill="#000"/>
<line x1="631.8" y1="805.5" x2="631.8" y2="810" stroke="#000" stroke-width="2" stroke-linecap="butt"/>
<line x1="624.5" y1="805.5" x2="639.1" y2="805.5" stroke="#000" stroke-width="1.6" stroke-linecap="butt"/>
<line x1="631.8" y1="834" x2="631.8" y2="839" stroke="#000" stroke-width="2" stroke-linecap="butt"/>
<line x1="624.5" y1="839" x2="639.1" y2="839" stroke="#000" stroke-width="1.6" stroke-linecap="butt"/>
<rect x="617.2" y="810" width="29.2" height="24" fill="#74069a" stroke="#000" stroke-width="2"/>
<line x1="617.2" y1="817.2" x2="646.4" y2="817.2" stroke="#000" stroke-width="2" stroke-linecap="butt"/>
<rect x="614.9" y="799.5" width="11.4" height="11.4" fill="#000"/>
<rect x="637" y="799.9" width="11.4" height="11.4" fill="#000"/>
<rect x="637" y="811.1" width="11.4" height="11.4" fill="#000"/>
<rect x="625.9" y="804.8" width="11.4" height="11.4" fill="#000"/>
<rect x="614.9" y="816.3" width="11.4" height="11.4" fill="#000"/>
<rect x="637" y="828.7" width="11.4" height="11.4" fill="#000"/>
<rect x="614.9" y="833" width="11.4" height="11.4" fill="#000"/>
<path d="M492.3,562.3 L492.3,556.3 L631.6,556.3 L631.6,562.3" fill="none" stroke="#000" stroke-width="1.5"/>
<path d="M492.3,597 L492.3,591 L631.6,591 L631.6,597" fill="none" stroke="#000" stroke-width="1.5"/>
<line x1="584.8" y1="591" x2="584.8" y2="597" stroke="#000" stroke-width="1.5" stroke-linecap="butt"/>
<path d="M492.3,630.4 L492.3,624.3 L631.6,624.3 L631.6,630.4" fill="none" stroke="#000" stroke-width="1.5"/>
<line x1="538.7" y1="624.3" x2="538.7" y2="630.4" stroke="#000" stroke-width="1.5" stroke-linecap="butt"/>
<text transform="translate(539.8,550.6) scale(1,1.035)" font-size="24.8">0.006</text>
<text transform="translate(505,584.5) scale(1,1.035)" font-size="24.8">0.006</text>
<text transform="translate(574.9,584.5) scale(1,1.035)" font-size="24.8">0.0006</text>
<text transform="translate(490.1,619.6) scale(1,1.035)" font-size="24.8">0.006</text>
<text transform="translate(559.2,619.6) scale(1,1.035)" font-size="24.8">0.0006</text>
<text transform="translate(385.3,935.267) rotate(-90) scale(0.983,1.035)" font-size="29.5">Ly6G<tspan font-size="20.6" dy="-9.7">+</tspan><tspan dy="9.7">Ly6C</tspan><tspan font-size="20.6" dy="-9.7">+</tspan><tspan dy="9.7"> (cells ml</tspan><tspan font-size="20.6" dy="-9.7">−1</tspan><tspan dy="9.7">)</tspan></text>
<text transform="translate(458.989,1014.813) rotate(-45) scale(1,1.035)" font-size="29.5">PBS</text>
<text transform="translate(485.461,1037.44) rotate(-45) scale(1,1.035)" font-size="29.5"><tspan font-style="italic">Hs</tspan>C5a</text>
<text transform="translate(488.621,1081.281) rotate(-45) scale(1,1.035)" font-size="29.5"><tspan font-style="italic">Hs</tspan>C5a + IC</text>
<text transform="translate(509.472,1107.03) rotate(-45) scale(1,1.035)" font-size="29.5"><tspan font-style="italic">Hs</tspan>C5a + avdo</text>
<line x1="807.6" y1="637.9" x2="807.6" y2="943.9" stroke="#000" stroke-width="2" stroke-linecap="butt"/>
<line x1="796.1" y1="942.9" x2="1009.1" y2="942.9" stroke="#000" stroke-width="2" stroke-linecap="butt"/>
<line x1="796.1" y1="942.9" x2="807.6" y2="942.9" stroke="#000" stroke-width="2" stroke-linecap="butt"/>
<text transform="translate(748.2,953.2) scale(1,1.035)" font-size="29.5">10<tspan font-size="20.6" dy="-9.7">1</tspan></text>
<line x1="796.1" y1="866.9" x2="807.6" y2="866.9" stroke="#000" stroke-width="2" stroke-linecap="butt"/>
<text transform="translate(748.2,877.2) scale(1,1.035)" font-size="29.5">10<tspan font-size="20.6" dy="-9.7">2</tspan></text>
<line x1="796.1" y1="790.9" x2="807.6" y2="790.9" stroke="#000" stroke-width="2" stroke-linecap="butt"/>
<text transform="translate(747.2,801.2) scale(1,1.035)" font-size="29.5">10<tspan font-size="20.6" dy="-9.7">3</tspan></text>
<line x1="796.1" y1="714.9" x2="807.6" y2="714.9" stroke="#000" stroke-width="2" stroke-linecap="butt"/>
<text transform="translate(747.2,725.2) scale(1,1.035)" font-size="29.5">10<tspan font-size="20.6" dy="-9.7">4</tspan></text>
<line x1="796.1" y1="638.9" x2="807.6" y2="638.9" stroke="#000" stroke-width="2" stroke-linecap="butt"/>
<text transform="translate(747.2,649.2) scale(1,1.035)" font-size="29.5">10<tspan font-size="20.6" dy="-9.7">5</tspan></text>
<line x1="837.2" y1="942.9" x2="837.2" y2="954.4" stroke="#000" stroke-width="2" stroke-linecap="butt"/>
<line x1="883.8" y1="942.9" x2="883.8" y2="954.4" stroke="#000" stroke-width="2" stroke-linecap="butt"/>
<line x1="930.3" y1="942.9" x2="930.3" y2="954.4" stroke="#000" stroke-width="2" stroke-linecap="butt"/>
<line x1="976.9" y1="942.9" x2="976.9" y2="954.4" stroke="#000" stroke-width="2" stroke-linecap="butt"/>
<rect x="822.7" y="889.8" width="29.2" height="52.2" fill="#fff" stroke="#000" stroke-width="2"/>
<line x1="822.7" y1="906" x2="851.9" y2="906" stroke="#000" stroke-width="2" stroke-linecap="butt"/>
<rect x="820.9" y="884.5" width="11.4" height="11.4" fill="#000"/>
<rect x="842.4" y="883.1" width="11.4" height="11.4" fill="#000"/>
<rect x="831.5" y="900.3" width="11.4" height="11.4" fill="#000"/>
<rect x="820.9" y="937.3" width="11.4" height="11.4" fill="#000"/>
<rect x="842.4" y="934.5" width="11.4" height="11.4" fill="#000"/>
<line x1="883.7" y1="673.8" x2="883.7" y2="691" stroke="#000" stroke-width="2" stroke-linecap="butt"/>
<line x1="876.4" y1="673.8" x2="891" y2="673.8" stroke="#000" stroke-width="1.6" stroke-linecap="butt"/>
<line x1="883.7" y1="764.1" x2="883.7" y2="776" stroke="#000" stroke-width="2" stroke-linecap="butt"/>
<line x1="876.4" y1="776" x2="891" y2="776" stroke="#000" stroke-width="1.6" stroke-linecap="butt"/>
<rect x="869.1" y="691" width="29.2" height="73.1" fill="#d3d3d3" stroke="#000" stroke-width="2"/>
<line x1="869.1" y1="690.5" x2="898.3" y2="690.5" stroke="#000" stroke-width="2" stroke-linecap="butt"/>
<rect x="878.1" y="668.1" width="11.4" height="11.4" fill="#000"/>
<rect x="878.1" y="673.8" width="11.4" height="11.4" fill="#000"/>
<rect x="878.1" y="682.8" width="11.4" height="11.4" fill="#000"/>
<rect x="867.1" y="683.3" width="11.4" height="11.4" fill="#000"/>
<rect x="889" y="682.4" width="11.4" height="11.4" fill="#000"/>
<rect x="878.1" y="712.4" width="11.4" height="11.4" fill="#000"/>
<rect x="878.1" y="760.4" width="11.4" height="11.4" fill="#000"/>
<rect x="878.1" y="770.3" width="11.4" height="11.4" fill="#000"/>
<line x1="930.4" y1="660.5" x2="930.4" y2="672.9" stroke="#000" stroke-width="2" stroke-linecap="butt"/>
<line x1="923.1" y1="660.5" x2="937.7" y2="660.5" stroke="#000" stroke-width="1.6" stroke-linecap="butt"/>
<line x1="930.4" y1="707" x2="930.4" y2="748" stroke="#000" stroke-width="2" stroke-linecap="butt"/>
<line x1="923.1" y1="748" x2="937.7" y2="748" stroke="#000" stroke-width="1.6" stroke-linecap="butt"/>
<rect x="915.8" y="672.9" width="29.2" height="34.1" fill="#606060" stroke="#000" stroke-width="2"/>
<line x1="915.8" y1="688.1" x2="945" y2="688.1" stroke="#000" stroke-width="2" stroke-linecap="butt"/>
<rect x="924.6" y="654.8" width="11.4" height="11.4" fill="#000"/>
<rect x="924.6" y="664.3" width="11.4" height="11.4" fill="#000"/>
<rect x="913.7" y="682.4" width="11.4" height="11.4" fill="#000"/>
<rect x="935.6" y="676.7" width="11.4" height="11.4" fill="#000"/>
<rect x="913.7" y="704.2" width="11.4" height="11.4" fill="#000"/>
<rect x="935.6" y="702.3" width="11.4" height="11.4" fill="#000"/>
<rect x="924.6" y="742.3" width="11.4" height="11.4" fill="#000"/>
<rect x="962.6" y="834.6" width="29.2" height="46.6" fill="#74069a" stroke="#000" stroke-width="2"/>
<line x1="962.6" y1="861.2" x2="991.8" y2="861.2" stroke="#000" stroke-width="2" stroke-linecap="butt"/>
<rect x="960" y="828.5" width="11.4" height="11.4" fill="#000"/>
<rect x="982.2" y="827.4" width="11.4" height="11.4" fill="#000"/>
<rect x="971.2" y="843.2" width="11.4" height="11.4" fill="#000"/>
<rect x="971.2" y="852.8" width="11.4" height="11.4" fill="#000"/>
<rect x="971.2" y="863.1" width="11.4" height="11.4" fill="#000"/>
<rect x="960" y="876.5" width="11.4" height="11.4" fill="#000"/>
<rect x="982.2" y="876.1" width="11.4" height="11.4" fill="#000"/>
<path d="M837.3,575.4 L837.3,569.1 L976.8,569.1 L976.8,575.4" fill="none" stroke="#000" stroke-width="1.5"/>
<path d="M837.3,610.5 L837.3,604.4 L976.8,604.4 L976.8,610.5" fill="none" stroke="#000" stroke-width="1.5"/>
<line x1="930" y1="604.4" x2="930" y2="610.5" stroke="#000" stroke-width="1.5" stroke-linecap="butt"/>
<path d="M837.3,642.1 L837.3,636.1 L976.8,636.1 L976.8,642.1" fill="none" stroke="#000" stroke-width="1.5"/>
<line x1="883.6" y1="636.1" x2="883.6" y2="642.1" stroke="#000" stroke-width="1.5" stroke-linecap="butt"/>
<text transform="translate(878.9,566) scale(1,1.035)" font-size="24.8">0.0025</text>
<text transform="translate(832.6,598.4) scale(1,1.035)" font-size="24.8">0.0025</text>
<text transform="translate(925,598.4) scale(1,1.035)" font-size="24.8">0.0006</text>
<text transform="translate(819.2,631.8) scale(1,1.035)" font-size="24.8">0.0025</text>
<text transform="translate(903.1,631.8) scale(1,1.035)" font-size="24.8">0.0006</text>
<text transform="translate(729.7,939.249) rotate(-90) scale(0.974,1.035)" font-size="29.5">Ly6G<tspan font-size="20.6" dy="-9.7">−</tspan><tspan dy="9.7">Ly6C</tspan><tspan font-size="20.6" dy="-9.7">+</tspan><tspan dy="9.7"> (cells ml</tspan><tspan font-size="20.6" dy="-9.7">−1</tspan><tspan dy="9.7">)</tspan></text>
<text transform="translate(802.489,1015.313) rotate(-45) scale(1,1.035)" font-size="29.5">PBS</text>
<text transform="translate(829.961,1037.44) rotate(-45) scale(1,1.035)" font-size="29.5"><tspan font-style="italic">Hs</tspan>C5a</text>
<text transform="translate(831.621,1080.781) rotate(-45) scale(1,1.035)" font-size="29.5"><tspan font-style="italic">Hs</tspan>C5a + IC</text>
<text transform="translate(853.972,1107.53) rotate(-45) scale(1,1.035)" font-size="29.5"><tspan font-style="italic">Hs</tspan>C5a + avdo</text>
<text transform="translate(6,1160.3)" font-size="34" font-weight="bold" stroke="#000" stroke-width="0.9">e</text>
<line x1="139.8" y1="1191.5" x2="139.8" y2="1496.9" stroke="#000" stroke-width="2" stroke-linecap="butt"/>
<line x1="131" y1="1495.9" x2="342" y2="1495.9" stroke="#000" stroke-width="2" stroke-linecap="butt"/>
<line x1="131" y1="1495.9" x2="139.8" y2="1495.9" stroke="#000" stroke-width="2" stroke-linecap="butt"/>
<text transform="translate(110.2,1506.3) scale(1,1.035)" font-size="29.5">0</text>
<line x1="131" y1="1435.075" x2="139.8" y2="1435.075" stroke="#000" stroke-width="2" stroke-linecap="butt"/>
<text transform="translate(77.2,1445.475) scale(1,1.035)" font-size="29.5">250</text>
<line x1="131" y1="1374.25" x2="139.8" y2="1374.25" stroke="#000" stroke-width="2" stroke-linecap="butt"/>
<text transform="translate(77.2,1384.65) scale(1,1.035)" font-size="29.5">500</text>
<line x1="131" y1="1313.425" x2="139.8" y2="1313.425" stroke="#000" stroke-width="2" stroke-linecap="butt"/>
<text transform="translate(77.2,1323.825) scale(1,1.035)" font-size="29.5">750</text>
<line x1="131" y1="1252.6" x2="139.8" y2="1252.6" stroke="#000" stroke-width="2" stroke-linecap="butt"/>
<text transform="translate(52.2,1263) scale(1,1.035)" font-size="29.5">1,000</text>
<line x1="131" y1="1191.775" x2="139.8" y2="1191.775" stroke="#000" stroke-width="2" stroke-linecap="butt"/>
<text transform="translate(52.2,1202.175) scale(1,1.035)" font-size="29.5">1,250</text>
<line x1="170.1" y1="1495.9" x2="170.1" y2="1504.8" stroke="#000" stroke-width="2" stroke-linecap="butt"/>
<line x1="216.9" y1="1495.9" x2="216.9" y2="1504.8" stroke="#000" stroke-width="2" stroke-linecap="butt"/>
<line x1="263.4" y1="1495.9" x2="263.4" y2="1504.8" stroke="#000" stroke-width="2" stroke-linecap="butt"/>
<line x1="309.8" y1="1495.9" x2="309.8" y2="1504.8" stroke="#000" stroke-width="2" stroke-linecap="butt"/>
<line x1="170.4" y1="1421.7" x2="170.4" y2="1436.6" stroke="#000" stroke-width="2" stroke-linecap="butt"/>
<line x1="163.1" y1="1421.7" x2="177.7" y2="1421.7" stroke="#000" stroke-width="1.6" stroke-linecap="butt"/>
<line x1="170.4" y1="1485.4" x2="170.4" y2="1492.1" stroke="#000" stroke-width="2" stroke-linecap="butt"/>
<line x1="163.1" y1="1492.1" x2="177.7" y2="1492.1" stroke="#000" stroke-width="1.6" stroke-linecap="butt"/>
<rect x="155.8" y="1436.6" width="29.2" height="48.8" fill="#fff" stroke="#000" stroke-width="2"/>
<line x1="155.8" y1="1467.9" x2="185" y2="1467.9" stroke="#000" stroke-width="2" stroke-linecap="butt"/>
<rect x="164.4" y="1416" width="11.4" height="11.4" fill="#000"/>
<rect x="164.4" y="1442.6" width="11.4" height="11.4" fill="#000"/>
<rect x="164.4" y="1461.7" width="11.4" height="11.4" fill="#000"/>
<rect x="164.4" y="1476.9" width="11.4" height="11.4" fill="#000"/>
<rect x="164.4" y="1485.4" width="11.4" height="11.4" fill="#000"/>
<line x1="216.85" y1="1214.3" x2="216.85" y2="1351.7" stroke="#000" stroke-width="2" stroke-linecap="butt"/>
<line x1="209.55" y1="1214.3" x2="224.15" y2="1214.3" stroke="#000" stroke-width="1.6" stroke-linecap="butt"/>
<line x1="216.85" y1="1445.8" x2="216.85" y2="1459.2" stroke="#000" stroke-width="2" stroke-linecap="butt"/>
<line x1="209.55" y1="1459.2" x2="224.15" y2="1459.2" stroke="#000" stroke-width="1.6" stroke-linecap="butt"/>
<rect x="202.25" y="1351.7" width="29.2" height="94.1" fill="#d3d3d3" stroke="#000" stroke-width="2"/>
<line x1="202.25" y1="1409.3" x2="231.45" y2="1409.3" stroke="#000" stroke-width="2" stroke-linecap="butt"/>
<rect x="211.2" y="1208.6" width="11.4" height="11.4" fill="#000"/>
<rect x="211.2" y="1344.6" width="11.4" height="11.4" fill="#000"/>
<rect x="211.2" y="1367.5" width="11.4" height="11.4" fill="#000"/>
<rect x="211.2" y="1403.6" width="11.4" height="11.4" fill="#000"/>
<rect x="211.2" y="1430.3" width="11.4" height="11.4" fill="#000"/>
<rect x="211.2" y="1441.3" width="11.4" height="11.4" fill="#000"/>
<rect x="211.2" y="1453.5" width="11.4" height="11.4" fill="#000"/>
<line x1="263.45" y1="1333.8" x2="263.45" y2="1355.1" stroke="#000" stroke-width="2" stroke-linecap="butt"/>
<line x1="256.15" y1="1333.8" x2="270.75" y2="1333.8" stroke="#000" stroke-width="1.6" stroke-linecap="butt"/>
<line x1="263.45" y1="1444.5" x2="263.45" y2="1461.7" stroke="#000" stroke-width="2" stroke-linecap="butt"/>
<line x1="256.15" y1="1461.7" x2="270.75" y2="1461.7" stroke="#000" stroke-width="1.6" stroke-linecap="butt"/>
<rect x="248.85" y="1355.1" width="29.2" height="89.4" fill="#606060" stroke="#000" stroke-width="2"/>
<line x1="248.85" y1="1391.2" x2="278.05" y2="1391.2" stroke="#000" stroke-width="2" stroke-linecap="butt"/>
<rect x="257.7" y="1328.1" width="11.4" height="11.4" fill="#000"/>
<rect x="257.7" y="1348.1" width="11.4" height="11.4" fill="#000"/>
<rect x="246.8" y="1386.5" width="11.4" height="11.4" fill="#000"/>
<rect x="268.7" y="1380.8" width="11.4" height="11.4" fill="#000"/>
<rect x="257.7" y="1398.9" width="11.4" height="11.4" fill="#000"/>
<rect x="257.7" y="1440.4" width="11.4" height="11.4" fill="#000"/>
<rect x="257.7" y="1456" width="11.4" height="11.4" fill="#000"/>
<line x1="309.8" y1="1444" x2="309.8" y2="1452.8" stroke="#000" stroke-width="2" stroke-linecap="butt"/>
<line x1="302.5" y1="1444" x2="317.1" y2="1444" stroke="#000" stroke-width="1.6" stroke-linecap="butt"/>
<rect x="295.2" y="1452.8" width="29.2" height="21.2" fill="#74069a" stroke="#000" stroke-width="2"/>
<line x1="295.2" y1="1465" x2="324.4" y2="1465" stroke="#000" stroke-width="2" stroke-linecap="butt"/>
<rect x="304.1" y="1438.3" width="11.4" height="11.4" fill="#000"/>
<rect x="292.9" y="1446.3" width="11.4" height="11.4" fill="#000"/>
<rect x="315" y="1446.3" width="11.4" height="11.4" fill="#000"/>
<rect x="292.9" y="1460.4" width="11.4" height="11.4" fill="#000"/>
<rect x="292.9" y="1468.3" width="11.4" height="11.4" fill="#000"/>
<rect x="315" y="1468.1" width="11.4" height="11.4" fill="#000"/>
<rect x="304.1" y="1464.3" width="11.4" height="11.4" fill="#000"/>
<path d="M170.3,1164.7 L170.3,1158.4 L309.3,1158.4 L309.3,1164.7" fill="none" stroke="#000" stroke-width="1.5"/>
<line x1="262.8" y1="1158.4" x2="262.8" y2="1164.7" stroke="#000" stroke-width="1.5" stroke-linecap="butt"/>
<path d="M170.3,1194.4 L170.3,1188.7 L309.3,1188.7 L309.3,1194.4" fill="none" stroke="#000" stroke-width="1.5"/>
<line x1="216.5" y1="1188.7" x2="216.5" y2="1194.4" stroke="#000" stroke-width="1.5" stroke-linecap="butt"/>
<text transform="translate(185.5,1152.7) scale(1,1.035)" font-size="24.8">0.018</text>
<text transform="translate(262.6,1152.7) scale(1,1.035)" font-size="24.8">0.007</text>
<text transform="translate(173,1184.9) scale(1,1.035)" font-size="24.8">0.03</text>
<text transform="translate(248.1,1184.9) scale(1,1.035)" font-size="24.8">0.007</text>
<text transform="translate(45,1464) rotate(-90) scale(0.978,1.035)" font-size="29.5">Albumin (µg ml<tspan font-size="20.6" dy="-9.7">−1</tspan><tspan dy="9.7">)</tspan></text>
<text transform="translate(126.889,1565.713) rotate(-45) scale(1,1.035)" font-size="29.5">PBS</text>
<text transform="translate(155.061,1588.34) rotate(-45) scale(1,1.035)" font-size="29.5"><tspan font-style="italic">Hs</tspan>C5a</text>
<text transform="translate(157.221,1632.181) rotate(-45) scale(1,1.035)" font-size="29.5"><tspan font-style="italic">Hs</tspan>C5a + IC</text>
<text transform="translate(184.372,1655.93) rotate(-45) scale(1,1.035)" font-size="29.5"><tspan font-style="italic">Hs</tspan>C5a + avdo</text>
<text transform="translate(362.6,1158.2)" font-size="34" font-weight="bold" stroke="#000" stroke-width="0.9">f</text>
<line x1="462.4" y1="1178.1" x2="462.4" y2="1483.7" stroke="#000" stroke-width="2" stroke-linecap="butt"/>
<line x1="450.9" y1="1482.7" x2="581.7" y2="1482.7" stroke="#000" stroke-width="2" stroke-linecap="butt"/>
<line x1="450.9" y1="1482.7" x2="462.4" y2="1482.7" stroke="#000" stroke-width="2" stroke-linecap="butt"/>
<text transform="translate(429.3,1493.1) scale(1,1.035)" font-size="29.5">0</text>
<line x1="450.9" y1="1421.98" x2="462.4" y2="1421.98" stroke="#000" stroke-width="2" stroke-linecap="butt"/>
<text transform="translate(396.3,1432.38) scale(1,1.035)" font-size="29.5">100</text>
<line x1="450.9" y1="1361.26" x2="462.4" y2="1361.26" stroke="#000" stroke-width="2" stroke-linecap="butt"/>
<text transform="translate(396.3,1371.66) scale(1,1.035)" font-size="29.5">200</text>
<line x1="450.9" y1="1300.54" x2="462.4" y2="1300.54" stroke="#000" stroke-width="2" stroke-linecap="butt"/>
<text transform="translate(396.3,1310.94) scale(1,1.035)" font-size="29.5">300</text>
<line x1="450.9" y1="1239.82" x2="462.4" y2="1239.82" stroke="#000" stroke-width="2" stroke-linecap="butt"/>
<text transform="translate(396.3,1250.22) scale(1,1.035)" font-size="29.5">400</text>
<line x1="450.9" y1="1179.1" x2="462.4" y2="1179.1" stroke="#000" stroke-width="2" stroke-linecap="butt"/>
<text transform="translate(396.3,1189.5) scale(1,1.035)" font-size="29.5">500</text>
<line x1="495.8" y1="1482.7" x2="495.8" y2="1494.7" stroke="#000" stroke-width="2" stroke-linecap="butt"/>
<line x1="546.9" y1="1482.7" x2="546.9" y2="1494.7" stroke="#000" stroke-width="2" stroke-linecap="butt"/>
<path d="M495.9,1185.2 L495.9,1178.7 L547.2,1178.7 L547.2,1185.2" fill="none" stroke="#000" stroke-width="1.5"/>
<text transform="translate(486.2,1172.6) scale(1,1.035)" font-size="24.8">0.0059</text>
<line x1="495.9" y1="1203.4" x2="546.6" y2="1247.6" stroke="#000" stroke-width="2.2" stroke-linecap="butt"/>
<line x1="495.9" y1="1325" x2="546.6" y2="1368.1" stroke="#000" stroke-width="2.2" stroke-linecap="butt"/>
<line x1="495.9" y1="1360.3" x2="546.6" y2="1398.4" stroke="#000" stroke-width="2.2" stroke-linecap="butt"/>
<line x1="495.9" y1="1399.6" x2="546.6" y2="1436.3" stroke="#000" stroke-width="2.2" stroke-linecap="butt"/>
<line x1="495.9" y1="1433.7" x2="546.6" y2="1441.5" stroke="#000" stroke-width="2.2" stroke-linecap="butt"/>
<line x1="495.9" y1="1443.9" x2="546.6" y2="1441.2" stroke="#000" stroke-width="2.2" stroke-linecap="butt"/>
<line x1="495.9" y1="1443.3" x2="546.6" y2="1451.2" stroke="#000" stroke-width="2.2" stroke-linecap="butt"/>
<line x1="495.9" y1="1452" x2="546.6" y2="1463.7" stroke="#000" stroke-width="2.2" stroke-linecap="butt"/>
<line x1="495.9" y1="1462.5" x2="546.6" y2="1466.6" stroke="#000" stroke-width="2.2" stroke-linecap="butt"/>
<circle cx="495.9" cy="1203.4" r="5.9" fill="none" stroke="#f7870f" stroke-width="1.8"/>
<circle cx="546.6" cy="1247.6" r="5.9" fill="none" stroke="#7a1fa2" stroke-width="1.8"/>
<circle cx="495.9" cy="1325" r="5.9" fill="none" stroke="#f7870f" stroke-width="1.8"/>
<circle cx="546.6" cy="1368.1" r="5.9" fill="none" stroke="#7a1fa2" stroke-width="1.8"/>
<circle cx="495.9" cy="1360.3" r="5.9" fill="none" stroke="#f7870f" stroke-width="1.8"/>
<circle cx="546.6" cy="1398.4" r="5.9" fill="none" stroke="#7a1fa2" stroke-width="1.8"/>
<circle cx="495.9" cy="1399.6" r="5.9" fill="none" stroke="#f7870f" stroke-width="1.8"/>
<circle cx="546.6" cy="1436.3" r="5.9" fill="none" stroke="#7a1fa2" stroke-width="1.8"/>
<circle cx="495.9" cy="1433.7" r="5.9" fill="none" stroke="#f7870f" stroke-width="1.8"/>
<circle cx="546.6" cy="1441.5" r="5.9" fill="none" stroke="#7a1fa2" stroke-width="1.8"/>
<circle cx="495.9" cy="1443.9" r="5.9" fill="none" stroke="#f7870f" stroke-width="1.8"/>
<circle cx="546.6" cy="1441.2" r="5.9" fill="none" stroke="#7a1fa2" stroke-width="1.8"/>
<circle cx="495.9" cy="1443.3" r="5.9" fill="none" stroke="#f7870f" stroke-width="1.8"/>
<circle cx="546.6" cy="1451.2" r="5.9" fill="none" stroke="#7a1fa2" stroke-width="1.8"/>
<circle cx="495.9" cy="1452" r="5.9" fill="none" stroke="#f7870f" stroke-width="1.8"/>
<circle cx="546.6" cy="1463.7" r="5.9" fill="none" stroke="#7a1fa2" stroke-width="1.8"/>
<circle cx="495.9" cy="1462.5" r="5.9" fill="none" stroke="#f7870f" stroke-width="1.8"/>
<circle cx="546.6" cy="1466.6" r="5.9" fill="none" stroke="#7a1fa2" stroke-width="1.8"/>
<text transform="translate(379.9,1421.149) rotate(-90) scale(0.983,1.035)" font-size="29.5">IL-6 (pg ml<tspan font-size="20.6" dy="-9.7">−1</tspan><tspan dy="9.7">)</tspan></text>
<text transform="translate(323.582,1696.52) rotate(-45) scale(1,1.035)" font-size="29.5">R848 + <tspan font-style="italic">Hs</tspan>C5a + IC</text>
<text transform="translate(348.933,1721.869) rotate(-45) scale(1,1.035)" font-size="29.5">R848 + <tspan font-style="italic">Hs</tspan>C5a + avdo</text>
<line x1="684.2" y1="1178.3" x2="684.2" y2="1482.8" stroke="#000" stroke-width="2" stroke-linecap="butt"/>
<line x1="672.7" y1="1481.8" x2="803.5" y2="1481.8" stroke="#000" stroke-width="2" stroke-linecap="butt"/>
<line x1="672.7" y1="1481.8" x2="684.2" y2="1481.8" stroke="#000" stroke-width="2" stroke-linecap="butt"/>
<text transform="translate(650.1,1492.2) scale(1,1.035)" font-size="29.5">0</text>
<line x1="672.7" y1="1421.3" x2="684.2" y2="1421.3" stroke="#000" stroke-width="2" stroke-linecap="butt"/>
<text transform="translate(617.1,1431.7) scale(1,1.035)" font-size="29.5">100</text>
<line x1="672.7" y1="1360.8" x2="684.2" y2="1360.8" stroke="#000" stroke-width="2" stroke-linecap="butt"/>
<text transform="translate(617.1,1371.2) scale(1,1.035)" font-size="29.5">200</text>
<line x1="672.7" y1="1300.3" x2="684.2" y2="1300.3" stroke="#000" stroke-width="2" stroke-linecap="butt"/>
<text transform="translate(617.1,1310.7) scale(1,1.035)" font-size="29.5">300</text>
<line x1="672.7" y1="1239.8" x2="684.2" y2="1239.8" stroke="#000" stroke-width="2" stroke-linecap="butt"/>
<text transform="translate(617.1,1250.2) scale(1,1.035)" font-size="29.5">400</text>
<line x1="672.7" y1="1179.3" x2="684.2" y2="1179.3" stroke="#000" stroke-width="2" stroke-linecap="butt"/>
<text transform="translate(617.1,1189.7) scale(1,1.035)" font-size="29.5">500</text>
<line x1="718.1" y1="1481.8" x2="718.1" y2="1493.8" stroke="#000" stroke-width="2" stroke-linecap="butt"/>
<line x1="769.3" y1="1481.8" x2="769.3" y2="1493.8" stroke="#000" stroke-width="2" stroke-linecap="butt"/>
<path d="M718.1,1185.3 L718.1,1179.3 L769.3,1179.3 L769.3,1185.3" fill="none" stroke="#000" stroke-width="1.5"/>
<text transform="translate(707.2,1173) scale(1,1.035)" font-size="24.8">0.0005</text>
<line x1="718" y1="1213.9" x2="769" y2="1312.3" stroke="#000" stroke-width="2.2" stroke-linecap="butt"/>
<line x1="718" y1="1287" x2="769" y2="1296.9" stroke="#000" stroke-width="2.2" stroke-linecap="butt"/>
<line x1="718" y1="1288.5" x2="769" y2="1325.6" stroke="#000" stroke-width="2.2" stroke-linecap="butt"/>
<line x1="718" y1="1302.7" x2="769" y2="1329" stroke="#000" stroke-width="2.2" stroke-linecap="butt"/>
<line x1="718" y1="1354.2" x2="769" y2="1381.3" stroke="#000" stroke-width="2.2" stroke-linecap="butt"/>
<line x1="718" y1="1364.7" x2="769" y2="1392.7" stroke="#000" stroke-width="2.2" stroke-linecap="butt"/>
<line x1="718" y1="1387.1" x2="769" y2="1393.6" stroke="#000" stroke-width="2.2" stroke-linecap="butt"/>
<line x1="718" y1="1406.7" x2="769" y2="1411" stroke="#000" stroke-width="2.2" stroke-linecap="butt"/>
<line x1="718" y1="1409.3" x2="769" y2="1425.9" stroke="#000" stroke-width="2.2" stroke-linecap="butt"/>
<line x1="718" y1="1411.9" x2="769" y2="1432.9" stroke="#000" stroke-width="2.2" stroke-linecap="butt"/>
<line x1="718" y1="1428" x2="769" y2="1433.8" stroke="#000" stroke-width="2.2" stroke-linecap="butt"/>
<line x1="718" y1="1448.6" x2="769" y2="1457.3" stroke="#000" stroke-width="2.2" stroke-linecap="butt"/>
<circle cx="718" cy="1213.9" r="5.9" fill="none" stroke="#f7870f" stroke-width="1.8"/>
<circle cx="769" cy="1312.3" r="5.9" fill="none" stroke="#7a1fa2" stroke-width="1.8"/>
<circle cx="718" cy="1287" r="5.9" fill="none" stroke="#f7870f" stroke-width="1.8"/>
<circle cx="769" cy="1296.9" r="5.9" fill="none" stroke="#7a1fa2" stroke-width="1.8"/>
<circle cx="718" cy="1288.5" r="5.9" fill="none" stroke="#f7870f" stroke-width="1.8"/>
<circle cx="769" cy="1325.6" r="5.9" fill="none" stroke="#7a1fa2" stroke-width="1.8"/>
<circle cx="718" cy="1302.7" r="5.9" fill="none" stroke="#f7870f" stroke-width="1.8"/>
<circle cx="769" cy="1329" r="5.9" fill="none" stroke="#7a1fa2" stroke-width="1.8"/>
<circle cx="718" cy="1354.2" r="5.9" fill="none" stroke="#f7870f" stroke-width="1.8"/>
<circle cx="769" cy="1381.3" r="5.9" fill="none" stroke="#7a1fa2" stroke-width="1.8"/>
<circle cx="718" cy="1364.7" r="5.9" fill="none" stroke="#f7870f" stroke-width="1.8"/>
<circle cx="769" cy="1392.7" r="5.9" fill="none" stroke="#7a1fa2" stroke-width="1.8"/>
<circle cx="718" cy="1387.1" r="5.9" fill="none" stroke="#f7870f" stroke-width="1.8"/>
<circle cx="769" cy="1393.6" r="5.9" fill="none" stroke="#7a1fa2" stroke-width="1.8"/>
<circle cx="718" cy="1406.7" r="5.9" fill="none" stroke="#f7870f" stroke-width="1.8"/>
<circle cx="769" cy="1411" r="5.9" fill="none" stroke="#7a1fa2" stroke-width="1.8"/>
<circle cx="718" cy="1409.3" r="5.9" fill="none" stroke="#f7870f" stroke-width="1.8"/>
<circle cx="769" cy="1425.9" r="5.9" fill="none" stroke="#7a1fa2" stroke-width="1.8"/>
<circle cx="718" cy="1411.9" r="5.9" fill="none" stroke="#f7870f" stroke-width="1.8"/>
<circle cx="769" cy="1432.9" r="5.9" fill="none" stroke="#7a1fa2" stroke-width="1.8"/>
<circle cx="718" cy="1428" r="5.9" fill="none" stroke="#f7870f" stroke-width="1.8"/>
<circle cx="769" cy="1433.8" r="5.9" fill="none" stroke="#7a1fa2" stroke-width="1.8"/>
<circle cx="718" cy="1448.6" r="5.9" fill="none" stroke="#f7870f" stroke-width="1.8"/>
<circle cx="769" cy="1457.3" r="5.9" fill="none" stroke="#7a1fa2" stroke-width="1.8"/>
<text transform="translate(601.8,1422.461) rotate(-90) scale(0.961,1.035)" font-size="29.5">TNF (pg ml<tspan font-size="20.6" dy="-9.7">−1</tspan><tspan dy="9.7">)</tspan></text>
<text transform="translate(547.082,1697.12) rotate(-45) scale(1,1.035)" font-size="29.5">R848 + <tspan font-style="italic">Hs</tspan>C5a + IC</text>
<text transform="translate(571.333,1722.269) rotate(-45) scale(1,1.035)" font-size="29.5">R848 + <tspan font-style="italic">Hs</tspan>C5a + avdo</text>
<line x1="920" y1="1179" x2="920" y2="1482.8" stroke="#000" stroke-width="2" stroke-linecap="butt"/>
<line x1="908.5" y1="1481.8" x2="1040" y2="1481.8" stroke="#000" stroke-width="2" stroke-linecap="butt"/>
<line x1="908.5" y1="1481.8" x2="920" y2="1481.8" stroke="#000" stroke-width="2" stroke-linecap="butt"/>
<text transform="translate(887.4,1492.2) scale(1,1.035)" font-size="29.5">0</text>
<line x1="908.5" y1="1381.2" x2="920" y2="1381.2" stroke="#000" stroke-width="2" stroke-linecap="butt"/>
<text transform="translate(829.4,1391.6) scale(1,1.035)" font-size="29.5">1,000</text>
<line x1="908.5" y1="1280.6" x2="920" y2="1280.6" stroke="#000" stroke-width="2" stroke-linecap="butt"/>
<text transform="translate(829.4,1291) scale(1,1.035)" font-size="29.5">2,000</text>
<line x1="908.5" y1="1180" x2="920" y2="1180" stroke="#000" stroke-width="2" stroke-linecap="butt"/>
<text transform="translate(829.4,1190.4) scale(1,1.035)" font-size="29.5">3,000</text>
<line x1="954.5" y1="1481.8" x2="954.5" y2="1493.8" stroke="#000" stroke-width="2" stroke-linecap="butt"/>
<line x1="1005.1" y1="1481.8" x2="1005.1" y2="1493.8" stroke="#000" stroke-width="2" stroke-linecap="butt"/>
<path d="M954.5,1185.3 L954.5,1179.3 L1005.1,1179.3 L1005.1,1185.3" fill="none" stroke="#000" stroke-width="1.5"/>
<text transform="translate(944.4,1173) scale(1,1.035)" font-size="24.8">0.0005</text>
<line x1="954.5" y1="1203.1" x2="1005.1" y2="1224.1" stroke="#000" stroke-width="2.2" stroke-linecap="butt"/>
<line x1="954.5" y1="1342" x2="1005.1" y2="1372.6" stroke="#000" stroke-width="2.2" stroke-linecap="butt"/>
<line x1="954.5" y1="1344.6" x2="1005.1" y2="1401.4" stroke="#000" stroke-width="2.2" stroke-linecap="butt"/>
<line x1="954.5" y1="1373.5" x2="1005.1" y2="1407.5" stroke="#000" stroke-width="2.2" stroke-linecap="butt"/>
<line x1="954.5" y1="1402.3" x2="1005.1" y2="1432.9" stroke="#000" stroke-width="2.2" stroke-linecap="butt"/>
<line x1="954.5" y1="1413.7" x2="1005.1" y2="1424.1" stroke="#000" stroke-width="2.2" stroke-linecap="butt"/>
<line x1="954.5" y1="1421.5" x2="1005.1" y2="1429.4" stroke="#000" stroke-width="2.2" stroke-linecap="butt"/>
<line x1="954.5" y1="1432" x2="1005.1" y2="1442.5" stroke="#000" stroke-width="2.2" stroke-linecap="butt"/>
<line x1="954.5" y1="1439.9" x2="1005.1" y2="1448.6" stroke="#000" stroke-width="2.2" stroke-linecap="butt"/>
<line x1="954.5" y1="1455.6" x2="1005.1" y2="1464.3" stroke="#000" stroke-width="2.2" stroke-linecap="butt"/>
<line x1="954.5" y1="1458.2" x2="1005.1" y2="1465.2" stroke="#000" stroke-width="2.2" stroke-linecap="butt"/>
<line x1="954.5" y1="1460" x2="1005.1" y2="1466.1" stroke="#000" stroke-width="2.2" stroke-linecap="butt"/>
<circle cx="954.5" cy="1203.1" r="5.9" fill="none" stroke="#f7870f" stroke-width="1.8"/>
<circle cx="1005.1" cy="1224.1" r="5.9" fill="none" stroke="#7a1fa2" stroke-width="1.8"/>
<circle cx="954.5" cy="1342" r="5.9" fill="none" stroke="#f7870f" stroke-width="1.8"/>
<circle cx="1005.1" cy="1372.6" r="5.9" fill="none" stroke="#7a1fa2" stroke-width="1.8"/>
<circle cx="954.5" cy="1344.6" r="5.9" fill="none" stroke="#f7870f" stroke-width="1.8"/>
<circle cx="1005.1" cy="1401.4" r="5.9" fill="none" stroke="#7a1fa2" stroke-width="1.8"/>
<circle cx="954.5" cy="1373.5" r="5.9" fill="none" stroke="#f7870f" stroke-width="1.8"/>
<circle cx="1005.1" cy="1407.5" r="5.9" fill="none" stroke="#7a1fa2" stroke-width="1.8"/>
<circle cx="954.5" cy="1402.3" r="5.9" fill="none" stroke="#f7870f" stroke-width="1.8"/>
<circle cx="1005.1" cy="1432.9" r="5.9" fill="none" stroke="#7a1fa2" stroke-width="1.8"/>
<circle cx="954.5" cy="1413.7" r="5.9" fill="none" stroke="#f7870f" stroke-width="1.8"/>
<circle cx="1005.1" cy="1424.1" r="5.9" fill="none" stroke="#7a1fa2" stroke-width="1.8"/>
<circle cx="954.5" cy="1421.5" r="5.9" fill="none" stroke="#f7870f" stroke-width="1.8"/>
<circle cx="1005.1" cy="1429.4" r="5.9" fill="none" stroke="#7a1fa2" stroke-width="1.8"/>
<circle cx="954.5" cy="1432" r="5.9" fill="none" stroke="#f7870f" stroke-width="1.8"/>
<circle cx="1005.1" cy="1442.5" r="5.9" fill="none" stroke="#7a1fa2" stroke-width="1.8"/>
<circle cx="954.5" cy="1439.9" r="5.9" fill="none" stroke="#f7870f" stroke-width="1.8"/>
<circle cx="1005.1" cy="1448.6" r="5.9" fill="none" stroke="#7a1fa2" stroke-width="1.8"/>
<circle cx="954.5" cy="1455.6" r="5.9" fill="none" stroke="#f7870f" stroke-width="1.8"/>
<circle cx="1005.1" cy="1464.3" r="5.9" fill="none" stroke="#7a1fa2" stroke-width="1.8"/>
<circle cx="954.5" cy="1458.2" r="5.9" fill="none" stroke="#f7870f" stroke-width="1.8"/>
<circle cx="1005.1" cy="1465.2" r="5.9" fill="none" stroke="#7a1fa2" stroke-width="1.8"/>
<circle cx="954.5" cy="1460" r="5.9" fill="none" stroke="#f7870f" stroke-width="1.8"/>
<circle cx="1005.1" cy="1466.1" r="5.9" fill="none" stroke="#7a1fa2" stroke-width="1.8"/>
<text transform="translate(821.7,1432.77) rotate(-90) scale(0.97,1.035)" font-size="29.5">CCL2 (pg ml<tspan font-size="20.6" dy="-9.7">−1</tspan><tspan dy="9.7">)</tspan></text>
<text transform="translate(785.882,1697.12) rotate(-45) scale(1,1.035)" font-size="29.5">R848 + <tspan font-style="italic">Hs</tspan>C5a + IC</text>
<text transform="translate(810.533,1723.269) rotate(-45) scale(1,1.035)" font-size="29.5">R848 + <tspan font-style="italic">Hs</tspan>C5a + avdo</text>
</svg></body></html>
